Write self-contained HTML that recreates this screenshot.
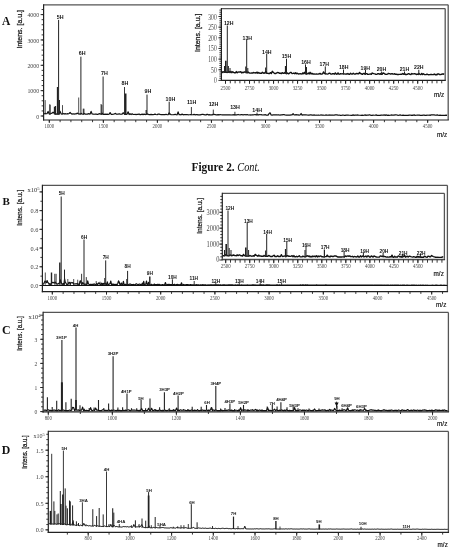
<!DOCTYPE html>
<html><head><meta charset="utf-8"><title>Figure 2</title>
<style>html,body{margin:0;padding:0;background:#fff;}body{width:454px;height:550px;overflow:hidden;}svg{display:block;filter:blur(0.3px);}</style>
</head><body>
<svg width="454" height="550" viewBox="0 0 454 550"><line x1="43.6" y1="4.8" x2="448.2" y2="4.8" stroke="#555" stroke-width="1.3"/>
<line x1="448.2" y1="4.8" x2="448.2" y2="120" stroke="#555" stroke-width="1.3"/>
<line x1="43.6" y1="4.15" x2="43.6" y2="120.6" stroke="#222" stroke-width="1.2"/>
<line x1="43" y1="120" x2="448.85" y2="120" stroke="#222" stroke-width="1.2"/>
<line x1="41.6" y1="116" x2="43.6" y2="116" stroke="#222" stroke-width="0.9"/>
<line x1="41.6" y1="110.93" x2="43.6" y2="110.93" stroke="#222" stroke-width="0.9"/>
<line x1="41.6" y1="105.86" x2="43.6" y2="105.86" stroke="#222" stroke-width="0.9"/>
<line x1="41.6" y1="100.79" x2="43.6" y2="100.79" stroke="#222" stroke-width="0.9"/>
<line x1="41.6" y1="95.72" x2="43.6" y2="95.72" stroke="#222" stroke-width="0.9"/>
<line x1="41.6" y1="90.65" x2="43.6" y2="90.65" stroke="#222" stroke-width="0.9"/>
<line x1="41.6" y1="85.58" x2="43.6" y2="85.58" stroke="#222" stroke-width="0.9"/>
<line x1="41.6" y1="80.51" x2="43.6" y2="80.51" stroke="#222" stroke-width="0.9"/>
<line x1="41.6" y1="75.44" x2="43.6" y2="75.44" stroke="#222" stroke-width="0.9"/>
<line x1="41.6" y1="70.37" x2="43.6" y2="70.37" stroke="#222" stroke-width="0.9"/>
<line x1="41.6" y1="65.3" x2="43.6" y2="65.3" stroke="#222" stroke-width="0.9"/>
<line x1="41.6" y1="60.23" x2="43.6" y2="60.23" stroke="#222" stroke-width="0.9"/>
<line x1="41.6" y1="55.16" x2="43.6" y2="55.16" stroke="#222" stroke-width="0.9"/>
<line x1="41.6" y1="50.09" x2="43.6" y2="50.09" stroke="#222" stroke-width="0.9"/>
<line x1="41.6" y1="45.02" x2="43.6" y2="45.02" stroke="#222" stroke-width="0.9"/>
<line x1="41.6" y1="39.95" x2="43.6" y2="39.95" stroke="#222" stroke-width="0.9"/>
<line x1="41.6" y1="34.88" x2="43.6" y2="34.88" stroke="#222" stroke-width="0.9"/>
<line x1="41.6" y1="29.81" x2="43.6" y2="29.81" stroke="#222" stroke-width="0.9"/>
<line x1="41.6" y1="24.74" x2="43.6" y2="24.74" stroke="#222" stroke-width="0.9"/>
<line x1="41.6" y1="19.67" x2="43.6" y2="19.67" stroke="#222" stroke-width="0.9"/>
<line x1="41.6" y1="14.6" x2="43.6" y2="14.6" stroke="#222" stroke-width="0.9"/>
<line x1="41.6" y1="9.53" x2="43.6" y2="9.53" stroke="#222" stroke-width="0.9"/>
<line x1="40.6" y1="116" x2="43.6" y2="116" stroke="#222" stroke-width="0.9"/>
<text x="39.2" y="118.8" font-size="6.2" font-family="'Liberation Serif', serif" text-anchor="end" fill="#444" textLength="2.95" lengthAdjust="spacingAndGlyphs">0</text>
<line x1="40.6" y1="90.65" x2="43.6" y2="90.65" stroke="#222" stroke-width="0.9"/>
<text x="39.2" y="93.45" font-size="6.2" font-family="'Liberation Serif', serif" text-anchor="end" fill="#444" textLength="11.8" lengthAdjust="spacingAndGlyphs">1000</text>
<line x1="40.6" y1="65.3" x2="43.6" y2="65.3" stroke="#222" stroke-width="0.9"/>
<text x="39.2" y="68.1" font-size="6.2" font-family="'Liberation Serif', serif" text-anchor="end" fill="#444" textLength="11.8" lengthAdjust="spacingAndGlyphs">2000</text>
<line x1="40.6" y1="39.95" x2="43.6" y2="39.95" stroke="#222" stroke-width="0.9"/>
<text x="39.2" y="42.75" font-size="6.2" font-family="'Liberation Serif', serif" text-anchor="end" fill="#444" textLength="11.8" lengthAdjust="spacingAndGlyphs">3000</text>
<line x1="40.6" y1="14.6" x2="43.6" y2="14.6" stroke="#222" stroke-width="0.9"/>
<text x="39.2" y="17.4" font-size="6.2" font-family="'Liberation Serif', serif" text-anchor="end" fill="#444" textLength="11.8" lengthAdjust="spacingAndGlyphs">4000</text>
<line x1="49.3" y1="120" x2="49.3" y2="122.2" stroke="#222" stroke-width="0.9"/>
<line x1="60.11" y1="120" x2="60.11" y2="122.2" stroke="#222" stroke-width="0.9"/>
<line x1="70.92" y1="120" x2="70.92" y2="122.2" stroke="#222" stroke-width="0.9"/>
<line x1="81.73" y1="120" x2="81.73" y2="122.2" stroke="#222" stroke-width="0.9"/>
<line x1="92.54" y1="120" x2="92.54" y2="122.2" stroke="#222" stroke-width="0.9"/>
<line x1="103.35" y1="120" x2="103.35" y2="122.2" stroke="#222" stroke-width="0.9"/>
<line x1="114.16" y1="120" x2="114.16" y2="122.2" stroke="#222" stroke-width="0.9"/>
<line x1="124.97" y1="120" x2="124.97" y2="122.2" stroke="#222" stroke-width="0.9"/>
<line x1="135.78" y1="120" x2="135.78" y2="122.2" stroke="#222" stroke-width="0.9"/>
<line x1="146.59" y1="120" x2="146.59" y2="122.2" stroke="#222" stroke-width="0.9"/>
<line x1="157.4" y1="120" x2="157.4" y2="122.2" stroke="#222" stroke-width="0.9"/>
<line x1="168.21" y1="120" x2="168.21" y2="122.2" stroke="#222" stroke-width="0.9"/>
<line x1="179.02" y1="120" x2="179.02" y2="122.2" stroke="#222" stroke-width="0.9"/>
<line x1="189.83" y1="120" x2="189.83" y2="122.2" stroke="#222" stroke-width="0.9"/>
<line x1="200.64" y1="120" x2="200.64" y2="122.2" stroke="#222" stroke-width="0.9"/>
<line x1="211.45" y1="120" x2="211.45" y2="122.2" stroke="#222" stroke-width="0.9"/>
<line x1="222.26" y1="120" x2="222.26" y2="122.2" stroke="#222" stroke-width="0.9"/>
<line x1="233.07" y1="120" x2="233.07" y2="122.2" stroke="#222" stroke-width="0.9"/>
<line x1="243.88" y1="120" x2="243.88" y2="122.2" stroke="#222" stroke-width="0.9"/>
<line x1="254.69" y1="120" x2="254.69" y2="122.2" stroke="#222" stroke-width="0.9"/>
<line x1="265.5" y1="120" x2="265.5" y2="122.2" stroke="#222" stroke-width="0.9"/>
<line x1="276.31" y1="120" x2="276.31" y2="122.2" stroke="#222" stroke-width="0.9"/>
<line x1="287.12" y1="120" x2="287.12" y2="122.2" stroke="#222" stroke-width="0.9"/>
<line x1="297.93" y1="120" x2="297.93" y2="122.2" stroke="#222" stroke-width="0.9"/>
<line x1="308.74" y1="120" x2="308.74" y2="122.2" stroke="#222" stroke-width="0.9"/>
<line x1="319.55" y1="120" x2="319.55" y2="122.2" stroke="#222" stroke-width="0.9"/>
<line x1="330.36" y1="120" x2="330.36" y2="122.2" stroke="#222" stroke-width="0.9"/>
<line x1="341.17" y1="120" x2="341.17" y2="122.2" stroke="#222" stroke-width="0.9"/>
<line x1="351.98" y1="120" x2="351.98" y2="122.2" stroke="#222" stroke-width="0.9"/>
<line x1="362.79" y1="120" x2="362.79" y2="122.2" stroke="#222" stroke-width="0.9"/>
<line x1="373.6" y1="120" x2="373.6" y2="122.2" stroke="#222" stroke-width="0.9"/>
<line x1="384.41" y1="120" x2="384.41" y2="122.2" stroke="#222" stroke-width="0.9"/>
<line x1="395.22" y1="120" x2="395.22" y2="122.2" stroke="#222" stroke-width="0.9"/>
<line x1="406.03" y1="120" x2="406.03" y2="122.2" stroke="#222" stroke-width="0.9"/>
<line x1="416.84" y1="120" x2="416.84" y2="122.2" stroke="#222" stroke-width="0.9"/>
<line x1="427.65" y1="120" x2="427.65" y2="122.2" stroke="#222" stroke-width="0.9"/>
<line x1="438.46" y1="120" x2="438.46" y2="122.2" stroke="#222" stroke-width="0.9"/>
<line x1="49.3" y1="120" x2="49.3" y2="123" stroke="#222" stroke-width="0.9"/>
<text x="49.3" y="127.8" font-size="6.8" font-family="'Liberation Serif', serif" text-anchor="middle" fill="#444" textLength="9.6" lengthAdjust="spacingAndGlyphs">1000</text>
<line x1="103.35" y1="120" x2="103.35" y2="123" stroke="#222" stroke-width="0.9"/>
<text x="103.35" y="127.8" font-size="6.8" font-family="'Liberation Serif', serif" text-anchor="middle" fill="#444" textLength="9.6" lengthAdjust="spacingAndGlyphs">1500</text>
<line x1="157.4" y1="120" x2="157.4" y2="123" stroke="#222" stroke-width="0.9"/>
<text x="157.4" y="127.8" font-size="6.8" font-family="'Liberation Serif', serif" text-anchor="middle" fill="#444" textLength="9.6" lengthAdjust="spacingAndGlyphs">2000</text>
<line x1="211.45" y1="120" x2="211.45" y2="123" stroke="#222" stroke-width="0.9"/>
<text x="211.45" y="127.8" font-size="6.8" font-family="'Liberation Serif', serif" text-anchor="middle" fill="#444" textLength="9.6" lengthAdjust="spacingAndGlyphs">2500</text>
<line x1="265.5" y1="120" x2="265.5" y2="123" stroke="#222" stroke-width="0.9"/>
<text x="265.5" y="127.8" font-size="6.8" font-family="'Liberation Serif', serif" text-anchor="middle" fill="#444" textLength="9.6" lengthAdjust="spacingAndGlyphs">3000</text>
<line x1="319.55" y1="120" x2="319.55" y2="123" stroke="#222" stroke-width="0.9"/>
<text x="319.55" y="127.8" font-size="6.8" font-family="'Liberation Serif', serif" text-anchor="middle" fill="#444" textLength="9.6" lengthAdjust="spacingAndGlyphs">3500</text>
<line x1="373.6" y1="120" x2="373.6" y2="123" stroke="#222" stroke-width="0.9"/>
<text x="373.6" y="127.8" font-size="6.8" font-family="'Liberation Serif', serif" text-anchor="middle" fill="#444" textLength="9.6" lengthAdjust="spacingAndGlyphs">4000</text>
<line x1="427.65" y1="120" x2="427.65" y2="123" stroke="#222" stroke-width="0.9"/>
<text x="427.65" y="127.8" font-size="6.8" font-family="'Liberation Serif', serif" text-anchor="middle" fill="#444" textLength="9.6" lengthAdjust="spacingAndGlyphs">4500</text>
<text x="22.2" y="29.2" font-size="7" font-family="'Liberation Sans', sans-serif" text-anchor="middle" fill="#1a1a1a" stroke="#1a1a1a" stroke-width="0.25" textLength="38.5" lengthAdjust="spacingAndGlyphs" transform="rotate(-90 22.2 29.2)">Intens. [a.u.]</text>
<text x="6.2" y="25.3" font-size="11.5" font-family="'Liberation Serif', serif" text-anchor="middle" fill="#111" font-weight="bold">A</text>
<text x="447.2" y="136.9" font-size="8.0" font-family="'Liberation Sans', sans-serif" text-anchor="end" fill="#111" stroke="#111" stroke-width="0.2" textLength="10.2" lengthAdjust="spacingAndGlyphs">m/z</text>
<polyline points="44.1,113.98 45.1,113.43 46.1,113.77 47.1,113.6 48.1,111.38 49.1,113.85 50.1,114.04 51.1,113.53 52.1,113.17 53.1,112.07 54.1,113.2 55.1,114.03 56.1,114.08 57.1,113.9 58.1,114.04 59.1,114.05 60.1,111.38 61.1,113.81 62.1,114.09 63.1,113.41 64.1,114.03 65.1,113.65 66.1,113.98 67.1,113.72 68.1,113.83 69.1,113.48 70.1,112.51 71.1,113.58 72.1,114.16 73.1,113.73 74.1,114.07 75.1,113.96 76.1,113.96 77.1,113.1 78.1,113.76 79.1,113.9 80.1,114.21 81.1,113.35 82.1,113.98 83.1,114.21 84.1,113.43 85.1,114.08 86.1,114 87.1,114.28 88.1,113.68 89.1,113.8 90.1,114.06 91.1,111.43 92.1,114.02 93.1,114.09 94.1,114.22 95.1,114.08 96.1,114.01 97.1,114.35 98.1,114.33 99.1,113.7 100.1,113.8 101.1,114.32 102.1,113.14 103.1,114.39 104.1,114.34 105.1,114.06 106.1,114.41 107.1,114.17 108.1,114.36 109.1,114.25 110.1,112.59 111.1,114.29 112.1,114.44 113.1,114.23 114.1,114.15 115.1,113.35 116.1,114.03 117.1,114.06 118.1,114.23 119.1,113.68 120.1,114.27 121.1,114.15 122.1,114.23 123.1,112.73 124.1,113.74 125.1,114.46 126.1,114.46 127.1,114.08 128.1,111.77 129.1,114.56 130.1,113.8 131.1,114.55 132.1,113.79 133.1,114.37 134.1,114.5 135.1,114.23 136.1,114.58 137.1,114.25 138.1,114.42 139.1,114.01 140.1,114.63 141.1,114.55 142.1,114.15 143.1,114.62 144.1,114.09 145.1,114.57 146.1,114.29 147.1,113.9 148.1,114.27 149.1,114.67 150.1,114.66 151.1,114.42 152.1,114.6 153.1,114.64 154.1,114.43 155.1,114.1 156.1,114.48 157.1,114.72 158.1,114.14 159.1,114.2 160.1,114.44 161.1,114.63 162.1,114.7 163.1,114.69 164.1,114.5 165.1,114.59 166.1,114.28 167.1,114.76 168.1,114.75 169.1,112.84 170.1,114.03 171.1,114.76 172.1,114.73 173.1,114.77 174.1,114.67 175.1,114.17 176.1,114.74 177.1,114.78 178.1,111.83 179.1,114.73 180.1,114.65 181.1,114.8 182.1,114.12 183.1,114.8 184.1,114.53 185.1,114.6 186.1,114.5 187.1,114.61 188.1,114.78 189.1,114.77 190.1,114.69 191.1,114.54 192.1,114.73 193.1,114.77 194.1,114.34 195.1,114.79 196.1,114.64 197.1,114.61 198.1,114.86 199.1,114.86 200.1,114.86 201.1,114.59 202.1,114.44 203.1,114.36 204.1,114.71 205.1,114.88 206.1,114.87 207.1,114.23 208.1,114.82 209.1,114.72 210.1,114.84 211.1,114.89 212.1,114.91 213.1,114.36 214.1,114.36 215.1,114.54 216.1,114.9 217.1,114.91 218.1,114.63 219.1,114.93 220.1,114.5 221.1,114.74 222.1,114.81 223.1,114.87 224.1,114.95 225.1,114.84 226.1,114.95 227.1,114.94 228.1,114.92 229.1,114.86 230.1,114.73 231.1,114.97 232.1,114.81 233.1,114.86 234.1,114.64 235.1,114.83 236.1,114.96 237.1,114.79 238.1,114.47 239.1,114.74 240.1,115 241.1,114.53 242.1,114.65 243.1,114.95 244.1,114.57 245.1,114.72 246.1,114.81 247.1,114.54 248.1,114.83 249.1,114.99 250.1,114.84 251.1,115.04 252.1,114.73 253.1,114.89 254.1,114.73 255.1,114.48 256.1,114.82 257.1,114.57 258.1,115.05 259.1,114.65 260.1,114.78 261.1,114.58 262.1,114.99 263.1,114.97 264.1,115.02 265.1,114.61 266.1,115.08 267.1,115 268.1,115.04 269.1,113.56 270.1,112.81 271.1,114.9 272.1,115.08 273.1,114.95 274.1,114.92 275.1,114.86 276.1,114.76 277.1,114.96 278.1,114.73 279.1,114.95 280.1,115.09 281.1,114.79 282.1,114.84 283.1,114.65 284.1,114.64 285.1,115.02 286.1,115.1 287.1,115.09 288.1,115.16 289.1,115.06 290.1,115.08 291.1,114.93 292.1,114.96 293.1,113.74 294.1,115 295.1,114.83 296.1,114.69 297.1,114.84 298.1,114.91 299.1,115.15 300.1,115.01 301.1,113.48 302.1,115.12 303.1,114.84 304.1,114.94 305.1,114.94 306.1,114.94 307.1,115.01 308.1,115.14 309.1,115.03 310.1,114.93 311.1,114.94 312.1,115.06 313.1,115.21 314.1,114.87 315.1,115.24 316.1,115.14 317.1,115.26 318.1,114.98 319.1,115.2 320.1,115.27 321.1,114.82 322.1,115.19 323.1,115.09 324.1,115.26 325.1,115.25 326.1,114.94 327.1,115.22 328.1,115.02 329.1,115.08 330.1,114.97 331.1,115.12 332.1,115.14 333.1,114.99 334.1,115.25 335.1,114.84 336.1,114.95 337.1,114.9 338.1,115.26 339.1,115.02 340.1,115.29 341.1,115.3 342.1,115.21 343.1,115.05 344.1,115.28 345.1,115.3 346.1,115.06 347.1,115.03 348.1,115.06 349.1,115.27 350.1,115.24 351.1,115.31 352.1,115.32 353.1,114.92 354.1,115.32 355.1,114.99 356.1,115.13 357.1,114.97 358.1,115.08 359.1,115.24 360.1,115.25 361.1,115.3 362.1,115.22 363.1,115.31 364.1,115.27 365.1,114.92 366.1,115.33 367.1,114.96 368.1,115.26 369.1,114.91 370.1,114.95 371.1,115.32 372.1,115.34 373.1,115.12 374.1,115.27 375.1,115.23 376.1,114.93 377.1,115.34 378.1,115.34 379.1,115.33 380.1,115.34 381.1,115.07 382.1,114.99 383.1,115.27 384.1,114.88 385.1,115.32 386.1,114.91 387.1,115.29 388.1,115.19 389.1,115.35 390.1,115.27 391.1,114.96 392.1,115.13 393.1,115.08 394.1,115.07 395.1,114.88 396.1,114.93 397.1,114.99 398.1,115.35 399.1,115.25 400.1,114.87 401.1,115.22 402.1,115.35 403.1,115.11 404.1,115.36 405.1,115.36 406.1,115.36 407.1,115.29 408.1,115.32 409.1,115.05 410.1,115 411.1,115.28 412.1,115.21 413.1,115.31 414.1,114.91 415.1,115.37 416.1,115.27 417.1,115.12 418.1,115.13 419.1,114.97 420.1,115.33 421.1,115.31 422.1,115.37 423.1,115.21 424.1,115.05 425.1,115.33 426.1,115.32 427.1,115.1 428.1,115.24 429.1,114.97 430.1,115.33 431.1,114.91 432.1,114.97 433.1,114.92 434.1,114.96 435.1,115.07 436.1,115.25 437.1,114.9 438.1,115.14 439.1,115.33 440.1,115.19 441.1,115.29 442.1,115.25 443.1,115.38 444.1,115.24 445.1,115.38 446.1,115.13 447.1,115.39" fill="none" stroke="#111" stroke-width="1.2" stroke-linejoin="round"/>
<line x1="45.2" y1="114.31" x2="45.2" y2="100.1" stroke="#222" stroke-width="0.8"/>
<line x1="49.6" y1="114.34" x2="49.6" y2="104.3" stroke="#222" stroke-width="0.8"/>
<line x1="50.3" y1="114.34" x2="50.3" y2="104.7" stroke="#222" stroke-width="0.8"/>
<line x1="54.6" y1="114.37" x2="54.6" y2="106.7" stroke="#222" stroke-width="1.5"/>
<line x1="55.5" y1="114.38" x2="55.5" y2="106" stroke="#222" stroke-width="1.2"/>
<line x1="57.5" y1="114.39" x2="57.5" y2="87" stroke="#222" stroke-width="1.3"/>
<line x1="58.6" y1="114.4" x2="58.6" y2="19.9" stroke="#222" stroke-width="1"/>
<line x1="59.5" y1="114.4" x2="59.5" y2="100" stroke="#222" stroke-width="1"/>
<line x1="62.5" y1="114.42" x2="62.5" y2="105.1" stroke="#222" stroke-width="0.8"/>
<line x1="78.7" y1="114.53" x2="78.7" y2="97.5" stroke="#222" stroke-width="0.8"/>
<line x1="80.9" y1="114.54" x2="80.9" y2="56.7" stroke="#222" stroke-width="1"/>
<line x1="83.3" y1="114.56" x2="83.3" y2="108.7" stroke="#222" stroke-width="1"/>
<line x1="84" y1="114.56" x2="84" y2="108.7" stroke="#222" stroke-width="0.8"/>
<line x1="101.1" y1="114.68" x2="101.1" y2="104" stroke="#222" stroke-width="0.9"/>
<line x1="101.8" y1="114.68" x2="101.8" y2="105" stroke="#222" stroke-width="0.9"/>
<line x1="103.1" y1="114.69" x2="103.1" y2="76.5" stroke="#222" stroke-width="1"/>
<line x1="124.5" y1="114.83" x2="124.5" y2="87" stroke="#222" stroke-width="0.9"/>
<line x1="125.6" y1="114.84" x2="125.6" y2="93.5" stroke="#222" stroke-width="1.8"/>
<line x1="147" y1="114.98" x2="147" y2="94.6" stroke="#222" stroke-width="1"/>
<line x1="146.2" y1="114.97" x2="146.2" y2="110" stroke="#222" stroke-width="1.2"/>
<line x1="169.2" y1="115.06" x2="169.2" y2="101.7" stroke="#222" stroke-width="1"/>
<line x1="191.4" y1="115.14" x2="191.4" y2="107" stroke="#222" stroke-width="0.9"/>
<line x1="213.3" y1="115.21" x2="213.3" y2="109.6" stroke="#222" stroke-width="0.9"/>
<line x1="234.9" y1="115.28" x2="234.9" y2="111.8" stroke="#222" stroke-width="0.9"/>
<line x1="257" y1="115.36" x2="257" y2="112.6" stroke="#222" stroke-width="0.9"/>
<text x="60.1" y="18.51" font-size="5.3" font-family="'Liberation Sans', sans-serif" text-anchor="middle" fill="#111" font-weight="bold">5H</text>
<text x="82.1" y="54.81" font-size="5.3" font-family="'Liberation Sans', sans-serif" text-anchor="middle" fill="#111" font-weight="bold">6H</text>
<text x="104.4" y="75.31" font-size="5.3" font-family="'Liberation Sans', sans-serif" text-anchor="middle" fill="#111" font-weight="bold">7H</text>
<text x="125" y="85.11" font-size="5.3" font-family="'Liberation Sans', sans-serif" text-anchor="middle" fill="#111" font-weight="bold">8H</text>
<text x="148" y="93.11" font-size="5.3" font-family="'Liberation Sans', sans-serif" text-anchor="middle" fill="#111" font-weight="bold">9H</text>
<text x="170.4" y="100.61" font-size="5.3" font-family="'Liberation Sans', sans-serif" text-anchor="middle" fill="#111" font-weight="bold">10H</text>
<text x="191.6" y="103.51" font-size="5.3" font-family="'Liberation Sans', sans-serif" text-anchor="middle" fill="#111" font-weight="bold">11H</text>
<text x="213.5" y="106.31" font-size="5.3" font-family="'Liberation Sans', sans-serif" text-anchor="middle" fill="#111" font-weight="bold">12H</text>
<text x="235" y="109.01" font-size="5.3" font-family="'Liberation Sans', sans-serif" text-anchor="middle" fill="#111" font-weight="bold">13H</text>
<text x="257.2" y="112.11" font-size="5.3" font-family="'Liberation Sans', sans-serif" text-anchor="middle" fill="#111" font-weight="bold">14H</text>
<rect x="221.4" y="8.6" width="223.8" height="71.7" fill="#fff"/>
<line x1="221.4" y1="8.6" x2="445.2" y2="8.6" stroke="#555" stroke-width="1.3"/>
<line x1="445.2" y1="8.6" x2="445.2" y2="80.3" stroke="#555" stroke-width="1.3"/>
<line x1="221.4" y1="7.95" x2="221.4" y2="80.9" stroke="#222" stroke-width="1.2"/>
<line x1="220.8" y1="80.3" x2="445.85" y2="80.3" stroke="#222" stroke-width="1.2"/>
<line x1="219.4" y1="78.27" x2="221.4" y2="78.27" stroke="#222" stroke-width="0.9"/>
<line x1="219.4" y1="76.14" x2="221.4" y2="76.14" stroke="#222" stroke-width="0.9"/>
<line x1="219.4" y1="74.01" x2="221.4" y2="74.01" stroke="#222" stroke-width="0.9"/>
<line x1="219.4" y1="71.88" x2="221.4" y2="71.88" stroke="#222" stroke-width="0.9"/>
<line x1="219.4" y1="69.75" x2="221.4" y2="69.75" stroke="#222" stroke-width="0.9"/>
<line x1="219.4" y1="67.62" x2="221.4" y2="67.62" stroke="#222" stroke-width="0.9"/>
<line x1="219.4" y1="65.49" x2="221.4" y2="65.49" stroke="#222" stroke-width="0.9"/>
<line x1="219.4" y1="63.36" x2="221.4" y2="63.36" stroke="#222" stroke-width="0.9"/>
<line x1="219.4" y1="61.23" x2="221.4" y2="61.23" stroke="#222" stroke-width="0.9"/>
<line x1="219.4" y1="59.1" x2="221.4" y2="59.1" stroke="#222" stroke-width="0.9"/>
<line x1="219.4" y1="56.97" x2="221.4" y2="56.97" stroke="#222" stroke-width="0.9"/>
<line x1="219.4" y1="54.84" x2="221.4" y2="54.84" stroke="#222" stroke-width="0.9"/>
<line x1="219.4" y1="52.71" x2="221.4" y2="52.71" stroke="#222" stroke-width="0.9"/>
<line x1="219.4" y1="50.58" x2="221.4" y2="50.58" stroke="#222" stroke-width="0.9"/>
<line x1="219.4" y1="48.45" x2="221.4" y2="48.45" stroke="#222" stroke-width="0.9"/>
<line x1="219.4" y1="46.32" x2="221.4" y2="46.32" stroke="#222" stroke-width="0.9"/>
<line x1="219.4" y1="44.19" x2="221.4" y2="44.19" stroke="#222" stroke-width="0.9"/>
<line x1="219.4" y1="42.06" x2="221.4" y2="42.06" stroke="#222" stroke-width="0.9"/>
<line x1="219.4" y1="39.93" x2="221.4" y2="39.93" stroke="#222" stroke-width="0.9"/>
<line x1="219.4" y1="37.8" x2="221.4" y2="37.8" stroke="#222" stroke-width="0.9"/>
<line x1="219.4" y1="35.67" x2="221.4" y2="35.67" stroke="#222" stroke-width="0.9"/>
<line x1="219.4" y1="33.54" x2="221.4" y2="33.54" stroke="#222" stroke-width="0.9"/>
<line x1="219.4" y1="31.41" x2="221.4" y2="31.41" stroke="#222" stroke-width="0.9"/>
<line x1="219.4" y1="29.28" x2="221.4" y2="29.28" stroke="#222" stroke-width="0.9"/>
<line x1="219.4" y1="27.15" x2="221.4" y2="27.15" stroke="#222" stroke-width="0.9"/>
<line x1="219.4" y1="25.02" x2="221.4" y2="25.02" stroke="#222" stroke-width="0.9"/>
<line x1="219.4" y1="22.89" x2="221.4" y2="22.89" stroke="#222" stroke-width="0.9"/>
<line x1="219.4" y1="20.76" x2="221.4" y2="20.76" stroke="#222" stroke-width="0.9"/>
<line x1="219.4" y1="18.63" x2="221.4" y2="18.63" stroke="#222" stroke-width="0.9"/>
<line x1="219.4" y1="16.5" x2="221.4" y2="16.5" stroke="#222" stroke-width="0.9"/>
<line x1="219.4" y1="14.37" x2="221.4" y2="14.37" stroke="#222" stroke-width="0.9"/>
<line x1="219.4" y1="12.24" x2="221.4" y2="12.24" stroke="#222" stroke-width="0.9"/>
<line x1="219.4" y1="10.11" x2="221.4" y2="10.11" stroke="#222" stroke-width="0.9"/>
<line x1="218.4" y1="80.4" x2="221.4" y2="80.4" stroke="#222" stroke-width="0.9"/>
<text x="216.7" y="83.4" font-size="7.8" font-family="'Liberation Serif', serif" text-anchor="end" fill="#444" textLength="2.8" lengthAdjust="spacingAndGlyphs">0</text>
<line x1="218.4" y1="69.75" x2="221.4" y2="69.75" stroke="#222" stroke-width="0.9"/>
<text x="216.7" y="72.75" font-size="7.8" font-family="'Liberation Serif', serif" text-anchor="end" fill="#444" textLength="5.6" lengthAdjust="spacingAndGlyphs">50</text>
<line x1="218.4" y1="59.1" x2="221.4" y2="59.1" stroke="#222" stroke-width="0.9"/>
<text x="216.7" y="62.1" font-size="7.8" font-family="'Liberation Serif', serif" text-anchor="end" fill="#444" textLength="8.4" lengthAdjust="spacingAndGlyphs">100</text>
<line x1="218.4" y1="48.45" x2="221.4" y2="48.45" stroke="#222" stroke-width="0.9"/>
<text x="216.7" y="51.45" font-size="7.8" font-family="'Liberation Serif', serif" text-anchor="end" fill="#444" textLength="8.4" lengthAdjust="spacingAndGlyphs">150</text>
<line x1="218.4" y1="37.8" x2="221.4" y2="37.8" stroke="#222" stroke-width="0.9"/>
<text x="216.7" y="40.8" font-size="7.8" font-family="'Liberation Serif', serif" text-anchor="end" fill="#444" textLength="8.4" lengthAdjust="spacingAndGlyphs">200</text>
<line x1="218.4" y1="27.15" x2="221.4" y2="27.15" stroke="#222" stroke-width="0.9"/>
<text x="216.7" y="30.15" font-size="7.8" font-family="'Liberation Serif', serif" text-anchor="end" fill="#444" textLength="8.4" lengthAdjust="spacingAndGlyphs">250</text>
<line x1="218.4" y1="16.5" x2="221.4" y2="16.5" stroke="#222" stroke-width="0.9"/>
<text x="216.7" y="19.5" font-size="7.8" font-family="'Liberation Serif', serif" text-anchor="end" fill="#444" textLength="8.4" lengthAdjust="spacingAndGlyphs">300</text>
<line x1="225.5" y1="80.3" x2="225.5" y2="83.3" stroke="#222" stroke-width="0.9"/>
<line x1="230.31" y1="80.3" x2="230.31" y2="83.3" stroke="#222" stroke-width="0.9"/>
<line x1="235.11" y1="80.3" x2="235.11" y2="83.3" stroke="#222" stroke-width="0.9"/>
<line x1="239.91" y1="80.3" x2="239.91" y2="83.3" stroke="#222" stroke-width="0.9"/>
<line x1="244.72" y1="80.3" x2="244.72" y2="83.3" stroke="#222" stroke-width="0.9"/>
<line x1="249.53" y1="80.3" x2="249.53" y2="83.3" stroke="#222" stroke-width="0.9"/>
<line x1="254.33" y1="80.3" x2="254.33" y2="83.3" stroke="#222" stroke-width="0.9"/>
<line x1="259.13" y1="80.3" x2="259.13" y2="83.3" stroke="#222" stroke-width="0.9"/>
<line x1="263.94" y1="80.3" x2="263.94" y2="83.3" stroke="#222" stroke-width="0.9"/>
<line x1="268.75" y1="80.3" x2="268.75" y2="83.3" stroke="#222" stroke-width="0.9"/>
<line x1="273.55" y1="80.3" x2="273.55" y2="83.3" stroke="#222" stroke-width="0.9"/>
<line x1="278.36" y1="80.3" x2="278.36" y2="83.3" stroke="#222" stroke-width="0.9"/>
<line x1="283.16" y1="80.3" x2="283.16" y2="83.3" stroke="#222" stroke-width="0.9"/>
<line x1="287.97" y1="80.3" x2="287.97" y2="83.3" stroke="#222" stroke-width="0.9"/>
<line x1="292.77" y1="80.3" x2="292.77" y2="83.3" stroke="#222" stroke-width="0.9"/>
<line x1="297.57" y1="80.3" x2="297.57" y2="83.3" stroke="#222" stroke-width="0.9"/>
<line x1="302.38" y1="80.3" x2="302.38" y2="83.3" stroke="#222" stroke-width="0.9"/>
<line x1="307.19" y1="80.3" x2="307.19" y2="83.3" stroke="#222" stroke-width="0.9"/>
<line x1="311.99" y1="80.3" x2="311.99" y2="83.3" stroke="#222" stroke-width="0.9"/>
<line x1="316.8" y1="80.3" x2="316.8" y2="83.3" stroke="#222" stroke-width="0.9"/>
<line x1="321.6" y1="80.3" x2="321.6" y2="83.3" stroke="#222" stroke-width="0.9"/>
<line x1="326.4" y1="80.3" x2="326.4" y2="83.3" stroke="#222" stroke-width="0.9"/>
<line x1="331.21" y1="80.3" x2="331.21" y2="83.3" stroke="#222" stroke-width="0.9"/>
<line x1="336.01" y1="80.3" x2="336.01" y2="83.3" stroke="#222" stroke-width="0.9"/>
<line x1="340.82" y1="80.3" x2="340.82" y2="83.3" stroke="#222" stroke-width="0.9"/>
<line x1="345.62" y1="80.3" x2="345.62" y2="83.3" stroke="#222" stroke-width="0.9"/>
<line x1="350.43" y1="80.3" x2="350.43" y2="83.3" stroke="#222" stroke-width="0.9"/>
<line x1="355.24" y1="80.3" x2="355.24" y2="83.3" stroke="#222" stroke-width="0.9"/>
<line x1="360.04" y1="80.3" x2="360.04" y2="83.3" stroke="#222" stroke-width="0.9"/>
<line x1="364.85" y1="80.3" x2="364.85" y2="83.3" stroke="#222" stroke-width="0.9"/>
<line x1="369.65" y1="80.3" x2="369.65" y2="83.3" stroke="#222" stroke-width="0.9"/>
<line x1="374.46" y1="80.3" x2="374.46" y2="83.3" stroke="#222" stroke-width="0.9"/>
<line x1="379.26" y1="80.3" x2="379.26" y2="83.3" stroke="#222" stroke-width="0.9"/>
<line x1="384.06" y1="80.3" x2="384.06" y2="83.3" stroke="#222" stroke-width="0.9"/>
<line x1="388.87" y1="80.3" x2="388.87" y2="83.3" stroke="#222" stroke-width="0.9"/>
<line x1="393.68" y1="80.3" x2="393.68" y2="83.3" stroke="#222" stroke-width="0.9"/>
<line x1="398.48" y1="80.3" x2="398.48" y2="83.3" stroke="#222" stroke-width="0.9"/>
<line x1="403.28" y1="80.3" x2="403.28" y2="83.3" stroke="#222" stroke-width="0.9"/>
<line x1="408.09" y1="80.3" x2="408.09" y2="83.3" stroke="#222" stroke-width="0.9"/>
<line x1="412.89" y1="80.3" x2="412.89" y2="83.3" stroke="#222" stroke-width="0.9"/>
<line x1="417.7" y1="80.3" x2="417.7" y2="83.3" stroke="#222" stroke-width="0.9"/>
<line x1="422.5" y1="80.3" x2="422.5" y2="83.3" stroke="#222" stroke-width="0.9"/>
<line x1="427.31" y1="80.3" x2="427.31" y2="83.3" stroke="#222" stroke-width="0.9"/>
<line x1="432.12" y1="80.3" x2="432.12" y2="83.3" stroke="#222" stroke-width="0.9"/>
<line x1="436.92" y1="80.3" x2="436.92" y2="83.3" stroke="#222" stroke-width="0.9"/>
<line x1="441.73" y1="80.3" x2="441.73" y2="83.3" stroke="#222" stroke-width="0.9"/>
<line x1="225.5" y1="80.3" x2="225.5" y2="83.8" stroke="#222" stroke-width="0.9"/>
<text x="225.5" y="89.8" font-size="6.8" font-family="'Liberation Serif', serif" text-anchor="middle" fill="#444" textLength="9.8" lengthAdjust="spacingAndGlyphs">2500</text>
<line x1="249.53" y1="80.3" x2="249.53" y2="83.8" stroke="#222" stroke-width="0.9"/>
<text x="249.53" y="89.8" font-size="6.8" font-family="'Liberation Serif', serif" text-anchor="middle" fill="#444" textLength="9.8" lengthAdjust="spacingAndGlyphs">2750</text>
<line x1="273.55" y1="80.3" x2="273.55" y2="83.8" stroke="#222" stroke-width="0.9"/>
<text x="273.55" y="89.8" font-size="6.8" font-family="'Liberation Serif', serif" text-anchor="middle" fill="#444" textLength="9.8" lengthAdjust="spacingAndGlyphs">3000</text>
<line x1="297.57" y1="80.3" x2="297.57" y2="83.8" stroke="#222" stroke-width="0.9"/>
<text x="297.57" y="89.8" font-size="6.8" font-family="'Liberation Serif', serif" text-anchor="middle" fill="#444" textLength="9.8" lengthAdjust="spacingAndGlyphs">3250</text>
<line x1="321.6" y1="80.3" x2="321.6" y2="83.8" stroke="#222" stroke-width="0.9"/>
<text x="321.6" y="89.8" font-size="6.8" font-family="'Liberation Serif', serif" text-anchor="middle" fill="#444" textLength="9.8" lengthAdjust="spacingAndGlyphs">3500</text>
<line x1="345.62" y1="80.3" x2="345.62" y2="83.8" stroke="#222" stroke-width="0.9"/>
<text x="345.62" y="89.8" font-size="6.8" font-family="'Liberation Serif', serif" text-anchor="middle" fill="#444" textLength="9.8" lengthAdjust="spacingAndGlyphs">3750</text>
<line x1="369.65" y1="80.3" x2="369.65" y2="83.8" stroke="#222" stroke-width="0.9"/>
<text x="369.65" y="89.8" font-size="6.8" font-family="'Liberation Serif', serif" text-anchor="middle" fill="#444" textLength="9.8" lengthAdjust="spacingAndGlyphs">4000</text>
<line x1="393.68" y1="80.3" x2="393.68" y2="83.8" stroke="#222" stroke-width="0.9"/>
<text x="393.68" y="89.8" font-size="6.8" font-family="'Liberation Serif', serif" text-anchor="middle" fill="#444" textLength="9.8" lengthAdjust="spacingAndGlyphs">4250</text>
<line x1="417.7" y1="80.3" x2="417.7" y2="83.8" stroke="#222" stroke-width="0.9"/>
<text x="417.7" y="89.8" font-size="6.8" font-family="'Liberation Serif', serif" text-anchor="middle" fill="#444" textLength="9.8" lengthAdjust="spacingAndGlyphs">4500</text>
<text x="200" y="32.8" font-size="7" font-family="'Liberation Sans', sans-serif" text-anchor="middle" fill="#1a1a1a" stroke="#1a1a1a" stroke-width="0.25" textLength="38.5" lengthAdjust="spacingAndGlyphs" transform="rotate(-90 200 32.8)">Intens. [a.u.]</text>
<text x="444.2" y="97" font-size="8.0" font-family="'Liberation Sans', sans-serif" text-anchor="end" fill="#111" stroke="#111" stroke-width="0.2" textLength="10.2" lengthAdjust="spacingAndGlyphs">m/z</text>
<polyline points="221.9,71.41 222.8,72.61 223.7,71.72 224.6,72.06 225.5,72.19 226.4,72.24 227.3,72.45 228.2,72.03 229.1,71.56 230,72.49 230.9,71.4 231.8,72.64 232.7,71.76 233.6,72.4 234.5,72.82 235.4,72.82 236.3,71.56 237.2,72.83 238.1,72.06 239,71.84 239.9,72.11 240.8,71.69 241.7,72.92 242.6,72.3 243.5,72.62 244.4,71.89 245.3,72.12 246.2,72.02 247.1,72.77 248,71.97 248.9,72.77 249.8,72.96 250.7,73.08 251.6,73.04 252.5,73.02 253.4,72.52 254.3,72.83 255.2,72.75 256.1,73.16 257,72.09 257.9,73.24 258.8,72.58 259.7,73.23 260.6,73.29 261.5,73.21 262.4,72.33 263.3,72.99 264.2,73.28 265.1,72.37 266,71.49 266.9,73.37 267.8,73.41 268.7,73.44 269.6,73.45 270.5,72.61 271.4,73.44 272.3,71.32 273.2,72.28 274.1,73.04 275,73.53 275.9,73.57 276.8,72.82 277.7,72.54 278.6,72.65 279.5,73.34 280.4,73.08 281.3,73.65 282.2,72.69 283.1,73.25 284,73.37 284.9,72.53 285.8,73.27 286.7,73.76 287.6,72.91 288.5,73.76 289.4,73.29 290.3,72.57 291.2,72.56 292.1,73.6 293,73.42 293.9,73.06 294.8,73.82 295.7,72.72 296.6,73.72 297.5,73.27 298.4,73.96 299.3,73.92 300.2,73.65 301.1,73.88 302,73.95 302.9,72.81 303.8,73.78 304.7,72.29 305.6,73.67 306.5,74.02 307.4,73.87 308.3,72.94 309.2,73.94 310.1,72.25 311,74.05 311.9,73.15 312.8,74.07 313.7,73.86 314.6,74.02 315.5,74.08 316.4,73.91 317.3,74.09 318.2,74.05 319.1,73.91 320,73.37 320.9,74.1 321.8,74.11 322.7,73.59 323.6,71.92 324.5,73.35 325.4,73.82 326.3,73.87 327.2,74.06 328.1,73.86 329,73.32 329.9,73.26 330.8,74.1 331.7,74.09 332.6,73.58 333.5,73.74 334.4,74.18 335.3,72.9 336.2,73.97 337.1,74.2 338,72.94 338.9,74.19 339.8,74.15 340.7,73.62 341.6,73.87 342.5,73.85 343.4,73.5 344.3,73.9 345.2,74.16 346.1,73.98 347,74.05 347.9,73.47 348.8,74.24 349.7,74.27 350.6,73.27 351.5,73.95 352.4,74.08 353.3,73.15 354.2,74.01 355.1,74.16 356,73.75 356.9,73.37 357.8,73.82 358.7,73.75 359.6,72.45 360.5,73.68 361.4,73.79 362.3,74.34 363.2,73.66 364.1,73.29 365,74.35 365.9,73.6 366.8,73.65 367.7,74.33 368.6,74.35 369.5,74.14 370.4,73.97 371.3,74.34 372.2,73.01 373.1,73.49 374,73.67 374.9,73.82 375.8,74.33 376.7,74.42 377.6,73.69 378.5,73.7 379.4,74.23 380.3,73.64 381.2,74.42 382.1,74.26 383,72.88 383.9,73.25 384.8,74.09 385.7,74.22 386.6,74.35 387.5,74.18 388.4,73.4 389.3,73.61 390.2,73.95 391.1,73.95 392,73.59 392.9,73.99 393.8,74.15 394.7,73.69 395.6,74.4 396.5,74.26 397.4,74.44 398.3,74.53 399.2,74.36 400.1,74.42 401,74.29 401.9,74.31 402.8,73.53 403.7,74.32 404.6,73.45 405.5,74.57 406.4,74.54 407.3,74.41 408.2,73.78 409.1,73.75 410,74.4 410.9,74.46 411.8,73.5 412.7,74 413.6,73.91 414.5,73.65 415.4,73.9 416.3,74.53 417.2,74.06 418.1,74.45 419,73.46 419.9,74.37 420.8,74.62 421.7,73.43 422.6,74.51 423.5,73.67 424.4,74.44 425.3,74.62 426.2,74.5 427.1,74.17 428,74.58 428.9,74.7 429.8,74.66 430.7,74.49 431.6,74.57 432.5,74.66 433.4,74.59 434.3,73.97 435.2,74.72 436.1,74.51 437,74.73 437.9,73.83 438.8,74 439.7,74.57 440.6,74.58 441.5,74.28 442.4,73.87 443.3,74.34 444.2,73.53" fill="none" stroke="#111" stroke-width="1.4" stroke-linejoin="round"/>
<line x1="224.5" y1="72.94" x2="224.5" y2="66" stroke="#222" stroke-width="1"/>
<line x1="225.8" y1="72.97" x2="225.8" y2="60.7" stroke="#222" stroke-width="1.6"/>
<line x1="227.3" y1="73" x2="227.3" y2="25.5" stroke="#222" stroke-width="1"/>
<line x1="228.4" y1="73.01" x2="228.4" y2="66" stroke="#222" stroke-width="1"/>
<line x1="230" y1="73.04" x2="230" y2="68" stroke="#222" stroke-width="1"/>
<line x1="245.8" y1="73.33" x2="245.8" y2="66.5" stroke="#222" stroke-width="1.2"/>
<line x1="246.7" y1="73.34" x2="246.7" y2="40" stroke="#222" stroke-width="1"/>
<line x1="247.8" y1="73.36" x2="247.8" y2="68" stroke="#222" stroke-width="1"/>
<line x1="265.6" y1="73.68" x2="265.6" y2="67.5" stroke="#222" stroke-width="1"/>
<line x1="266.7" y1="73.7" x2="266.7" y2="53.8" stroke="#222" stroke-width="1"/>
<line x1="285.5" y1="74.04" x2="285.5" y2="66" stroke="#222" stroke-width="1.2"/>
<line x1="286.5" y1="74.06" x2="286.5" y2="58.7" stroke="#222" stroke-width="1"/>
<line x1="305.5" y1="74.33" x2="305.5" y2="64.4" stroke="#222" stroke-width="1"/>
<line x1="306.5" y1="74.34" x2="306.5" y2="67" stroke="#222" stroke-width="1"/>
<line x1="325.3" y1="74.44" x2="325.3" y2="66.4" stroke="#222" stroke-width="1"/>
<line x1="343.5" y1="74.54" x2="343.5" y2="69.5" stroke="#222" stroke-width="1"/>
<line x1="365.5" y1="74.66" x2="365.5" y2="70" stroke="#222" stroke-width="1"/>
<line x1="381.4" y1="74.75" x2="381.4" y2="71.5" stroke="#222" stroke-width="1"/>
<line x1="404.5" y1="74.88" x2="404.5" y2="71.5" stroke="#222" stroke-width="1"/>
<line x1="418.8" y1="74.96" x2="418.8" y2="69.8" stroke="#222" stroke-width="1"/>
<text x="228.7" y="24.87" font-size="5.2" font-family="'Liberation Sans', sans-serif" text-anchor="middle" fill="#111" font-weight="bold">12H</text>
<text x="247.3" y="40.17" font-size="5.2" font-family="'Liberation Sans', sans-serif" text-anchor="middle" fill="#111" font-weight="bold">13H</text>
<text x="266.8" y="53.87" font-size="5.2" font-family="'Liberation Sans', sans-serif" text-anchor="middle" fill="#111" font-weight="bold">14H</text>
<text x="286.5" y="58.47" font-size="5.2" font-family="'Liberation Sans', sans-serif" text-anchor="middle" fill="#111" font-weight="bold">15H</text>
<text x="306" y="64.47" font-size="5.2" font-family="'Liberation Sans', sans-serif" text-anchor="middle" fill="#111" font-weight="bold">16H</text>
<text x="324.3" y="65.77" font-size="5.2" font-family="'Liberation Sans', sans-serif" text-anchor="middle" fill="#111" font-weight="bold">17H</text>
<text x="343.7" y="68.87" font-size="5.2" font-family="'Liberation Sans', sans-serif" text-anchor="middle" fill="#111" font-weight="bold">18H</text>
<text x="365.3" y="69.97" font-size="5.2" font-family="'Liberation Sans', sans-serif" text-anchor="middle" fill="#111" font-weight="bold">19H</text>
<text x="381.4" y="71.17" font-size="5.2" font-family="'Liberation Sans', sans-serif" text-anchor="middle" fill="#111" font-weight="bold">20H</text>
<text x="404.5" y="71.17" font-size="5.2" font-family="'Liberation Sans', sans-serif" text-anchor="middle" fill="#111" font-weight="bold">21H</text>
<text x="418.8" y="68.97" font-size="5.2" font-family="'Liberation Sans', sans-serif" text-anchor="middle" fill="#111" font-weight="bold">22H</text>
<line x1="42.4" y1="185.3" x2="447.4" y2="185.3" stroke="#555" stroke-width="1.3"/>
<line x1="447.4" y1="185.3" x2="447.4" y2="291.7" stroke="#555" stroke-width="1.3"/>
<line x1="42.4" y1="184.65" x2="42.4" y2="292.3" stroke="#222" stroke-width="1.2"/>
<line x1="41.8" y1="291.7" x2="448.05" y2="291.7" stroke="#222" stroke-width="1.2"/>
<line x1="42.4" y1="285.5" x2="447.4" y2="285.5" stroke="#111" stroke-width="1.2"/>
<line x1="40.4" y1="285.5" x2="42.4" y2="285.5" stroke="#222" stroke-width="0.9"/>
<line x1="40.4" y1="276.14" x2="42.4" y2="276.14" stroke="#222" stroke-width="0.9"/>
<line x1="40.4" y1="266.78" x2="42.4" y2="266.78" stroke="#222" stroke-width="0.9"/>
<line x1="40.4" y1="257.42" x2="42.4" y2="257.42" stroke="#222" stroke-width="0.9"/>
<line x1="40.4" y1="248.06" x2="42.4" y2="248.06" stroke="#222" stroke-width="0.9"/>
<line x1="40.4" y1="238.7" x2="42.4" y2="238.7" stroke="#222" stroke-width="0.9"/>
<line x1="40.4" y1="229.34" x2="42.4" y2="229.34" stroke="#222" stroke-width="0.9"/>
<line x1="40.4" y1="219.98" x2="42.4" y2="219.98" stroke="#222" stroke-width="0.9"/>
<line x1="40.4" y1="210.62" x2="42.4" y2="210.62" stroke="#222" stroke-width="0.9"/>
<line x1="40.4" y1="201.26" x2="42.4" y2="201.26" stroke="#222" stroke-width="0.9"/>
<line x1="40.4" y1="191.9" x2="42.4" y2="191.9" stroke="#222" stroke-width="0.9"/>
<line x1="39.4" y1="285.5" x2="42.4" y2="285.5" stroke="#222" stroke-width="0.9"/>
<text x="38.3" y="288.1" font-size="6" font-family="'Liberation Serif', serif" text-anchor="end" fill="#444" textLength="7.8" lengthAdjust="spacingAndGlyphs">0.0</text>
<line x1="39.4" y1="266.78" x2="42.4" y2="266.78" stroke="#222" stroke-width="0.9"/>
<text x="38.3" y="269.38" font-size="6" font-family="'Liberation Serif', serif" text-anchor="end" fill="#444" textLength="7.8" lengthAdjust="spacingAndGlyphs">0.2</text>
<line x1="39.4" y1="248.06" x2="42.4" y2="248.06" stroke="#222" stroke-width="0.9"/>
<text x="38.3" y="250.66" font-size="6" font-family="'Liberation Serif', serif" text-anchor="end" fill="#444" textLength="7.8" lengthAdjust="spacingAndGlyphs">0.4</text>
<line x1="39.4" y1="229.34" x2="42.4" y2="229.34" stroke="#222" stroke-width="0.9"/>
<text x="38.3" y="231.94" font-size="6" font-family="'Liberation Serif', serif" text-anchor="end" fill="#444" textLength="7.8" lengthAdjust="spacingAndGlyphs">0.6</text>
<line x1="39.4" y1="210.62" x2="42.4" y2="210.62" stroke="#222" stroke-width="0.9"/>
<text x="38.3" y="213.22" font-size="6" font-family="'Liberation Serif', serif" text-anchor="end" fill="#444" textLength="7.8" lengthAdjust="spacingAndGlyphs">0.8</text>
<line x1="39.4" y1="191.9" x2="42.4" y2="191.9" stroke="#222" stroke-width="0.9"/>
<text x="39.6" y="192.4" font-size="6.6" font-family="'Liberation Serif', serif" text-anchor="end" fill="#333">x10<tspan font-size="4.6" dy="-2.4">5</tspan></text>
<line x1="52.3" y1="291.7" x2="52.3" y2="293.9" stroke="#222" stroke-width="0.9"/>
<line x1="63.14" y1="291.7" x2="63.14" y2="293.9" stroke="#222" stroke-width="0.9"/>
<line x1="73.98" y1="291.7" x2="73.98" y2="293.9" stroke="#222" stroke-width="0.9"/>
<line x1="84.82" y1="291.7" x2="84.82" y2="293.9" stroke="#222" stroke-width="0.9"/>
<line x1="95.66" y1="291.7" x2="95.66" y2="293.9" stroke="#222" stroke-width="0.9"/>
<line x1="106.5" y1="291.7" x2="106.5" y2="293.9" stroke="#222" stroke-width="0.9"/>
<line x1="117.34" y1="291.7" x2="117.34" y2="293.9" stroke="#222" stroke-width="0.9"/>
<line x1="128.18" y1="291.7" x2="128.18" y2="293.9" stroke="#222" stroke-width="0.9"/>
<line x1="139.02" y1="291.7" x2="139.02" y2="293.9" stroke="#222" stroke-width="0.9"/>
<line x1="149.86" y1="291.7" x2="149.86" y2="293.9" stroke="#222" stroke-width="0.9"/>
<line x1="160.7" y1="291.7" x2="160.7" y2="293.9" stroke="#222" stroke-width="0.9"/>
<line x1="171.54" y1="291.7" x2="171.54" y2="293.9" stroke="#222" stroke-width="0.9"/>
<line x1="182.38" y1="291.7" x2="182.38" y2="293.9" stroke="#222" stroke-width="0.9"/>
<line x1="193.22" y1="291.7" x2="193.22" y2="293.9" stroke="#222" stroke-width="0.9"/>
<line x1="204.06" y1="291.7" x2="204.06" y2="293.9" stroke="#222" stroke-width="0.9"/>
<line x1="214.9" y1="291.7" x2="214.9" y2="293.9" stroke="#222" stroke-width="0.9"/>
<line x1="225.74" y1="291.7" x2="225.74" y2="293.9" stroke="#222" stroke-width="0.9"/>
<line x1="236.58" y1="291.7" x2="236.58" y2="293.9" stroke="#222" stroke-width="0.9"/>
<line x1="247.42" y1="291.7" x2="247.42" y2="293.9" stroke="#222" stroke-width="0.9"/>
<line x1="258.26" y1="291.7" x2="258.26" y2="293.9" stroke="#222" stroke-width="0.9"/>
<line x1="269.1" y1="291.7" x2="269.1" y2="293.9" stroke="#222" stroke-width="0.9"/>
<line x1="279.94" y1="291.7" x2="279.94" y2="293.9" stroke="#222" stroke-width="0.9"/>
<line x1="290.78" y1="291.7" x2="290.78" y2="293.9" stroke="#222" stroke-width="0.9"/>
<line x1="301.62" y1="291.7" x2="301.62" y2="293.9" stroke="#222" stroke-width="0.9"/>
<line x1="312.46" y1="291.7" x2="312.46" y2="293.9" stroke="#222" stroke-width="0.9"/>
<line x1="323.3" y1="291.7" x2="323.3" y2="293.9" stroke="#222" stroke-width="0.9"/>
<line x1="334.14" y1="291.7" x2="334.14" y2="293.9" stroke="#222" stroke-width="0.9"/>
<line x1="344.98" y1="291.7" x2="344.98" y2="293.9" stroke="#222" stroke-width="0.9"/>
<line x1="355.82" y1="291.7" x2="355.82" y2="293.9" stroke="#222" stroke-width="0.9"/>
<line x1="366.66" y1="291.7" x2="366.66" y2="293.9" stroke="#222" stroke-width="0.9"/>
<line x1="377.5" y1="291.7" x2="377.5" y2="293.9" stroke="#222" stroke-width="0.9"/>
<line x1="388.34" y1="291.7" x2="388.34" y2="293.9" stroke="#222" stroke-width="0.9"/>
<line x1="399.18" y1="291.7" x2="399.18" y2="293.9" stroke="#222" stroke-width="0.9"/>
<line x1="410.02" y1="291.7" x2="410.02" y2="293.9" stroke="#222" stroke-width="0.9"/>
<line x1="420.86" y1="291.7" x2="420.86" y2="293.9" stroke="#222" stroke-width="0.9"/>
<line x1="431.7" y1="291.7" x2="431.7" y2="293.9" stroke="#222" stroke-width="0.9"/>
<line x1="442.54" y1="291.7" x2="442.54" y2="293.9" stroke="#222" stroke-width="0.9"/>
<line x1="52.3" y1="291.7" x2="52.3" y2="294.7" stroke="#222" stroke-width="0.9"/>
<text x="52.3" y="300.2" font-size="6.8" font-family="'Liberation Serif', serif" text-anchor="middle" fill="#444" textLength="9.6" lengthAdjust="spacingAndGlyphs">1000</text>
<line x1="106.5" y1="291.7" x2="106.5" y2="294.7" stroke="#222" stroke-width="0.9"/>
<text x="106.5" y="300.2" font-size="6.8" font-family="'Liberation Serif', serif" text-anchor="middle" fill="#444" textLength="9.6" lengthAdjust="spacingAndGlyphs">1500</text>
<line x1="160.7" y1="291.7" x2="160.7" y2="294.7" stroke="#222" stroke-width="0.9"/>
<text x="160.7" y="300.2" font-size="6.8" font-family="'Liberation Serif', serif" text-anchor="middle" fill="#444" textLength="9.6" lengthAdjust="spacingAndGlyphs">2000</text>
<line x1="214.9" y1="291.7" x2="214.9" y2="294.7" stroke="#222" stroke-width="0.9"/>
<text x="214.9" y="300.2" font-size="6.8" font-family="'Liberation Serif', serif" text-anchor="middle" fill="#444" textLength="9.6" lengthAdjust="spacingAndGlyphs">2500</text>
<line x1="269.1" y1="291.7" x2="269.1" y2="294.7" stroke="#222" stroke-width="0.9"/>
<text x="269.1" y="300.2" font-size="6.8" font-family="'Liberation Serif', serif" text-anchor="middle" fill="#444" textLength="9.6" lengthAdjust="spacingAndGlyphs">3000</text>
<line x1="323.3" y1="291.7" x2="323.3" y2="294.7" stroke="#222" stroke-width="0.9"/>
<text x="323.3" y="300.2" font-size="6.8" font-family="'Liberation Serif', serif" text-anchor="middle" fill="#444" textLength="9.6" lengthAdjust="spacingAndGlyphs">3500</text>
<line x1="377.5" y1="291.7" x2="377.5" y2="294.7" stroke="#222" stroke-width="0.9"/>
<text x="377.5" y="300.2" font-size="6.8" font-family="'Liberation Serif', serif" text-anchor="middle" fill="#444" textLength="9.6" lengthAdjust="spacingAndGlyphs">4000</text>
<line x1="431.7" y1="291.7" x2="431.7" y2="294.7" stroke="#222" stroke-width="0.9"/>
<text x="431.7" y="300.2" font-size="6.8" font-family="'Liberation Serif', serif" text-anchor="middle" fill="#444" textLength="9.6" lengthAdjust="spacingAndGlyphs">4500</text>
<text x="22" y="207.8" font-size="7" font-family="'Liberation Sans', sans-serif" text-anchor="middle" fill="#1a1a1a" stroke="#1a1a1a" stroke-width="0.25" textLength="36" lengthAdjust="spacingAndGlyphs" transform="rotate(-90 22 207.8)">Intens. [a.u.]</text>
<text x="6.2" y="204.6" font-size="11" font-family="'Liberation Serif', serif" text-anchor="middle" fill="#111" font-weight="bold">B</text>
<text x="446.3" y="307.3" font-size="8.0" font-family="'Liberation Sans', sans-serif" text-anchor="end" fill="#111" stroke="#111" stroke-width="0.2" textLength="10.2" lengthAdjust="spacingAndGlyphs">m/z</text>
<polyline points="42.9,284.26 43.6,284.05 44.3,282.56 45,281.07 45.7,281.89 46.4,282.64 47.1,280.56 47.8,282.53 48.5,283.05 49.2,284.42 49.9,283.56 50.6,284.44 51.3,283.89 52,282.54 52.7,282.37 53.4,282.88 54.1,282.32 54.8,282.94 55.5,282.21 56.2,283.52 56.9,283.85 57.6,284.18 58.3,283.66 59,283.37 59.7,282.75 60.4,279.87 61.1,282.31 61.8,283.73 62.5,284.39 63.2,283.73 63.9,284.49 64.6,278.9 65.3,282.38 66,283.16 66.7,284.5 67.4,284.51 68.1,284.27 68.8,282.37 69.5,282.31 70.2,284.51 70.9,282.42 71.6,282.78 72.3,282.89 73,282.54 73.7,284.23 74.4,283.96 75.1,283.79 75.8,283.73 76.5,284.01 77.2,283.46 77.9,284.37 78.6,283.99 79.3,284.56 80,281.1 80.7,280.94 81.4,284.13 82.1,284.32 82.8,282.48 83.5,283.66 84.2,284.46 84.9,283.88 85.6,284.33 86.3,284.32 87,284.42 87.7,280.81 88.4,283.55 89.1,284.51 89.8,284.5 90.5,284.25 91.2,284.6 91.9,284.41 92.6,284.26 93.3,284.57 94,283.83 94.7,284.25 95.4,284.61 96.1,284.57 96.8,283.35 97.5,284.5 98.2,283.9 98.9,282.7 99.6,283.52 100.3,284.44 101,284.35 101.7,283.17 102.4,284.67 103.1,283.32 103.8,284.35 104.5,283.21 105.2,283.74 105.9,283.94 106.6,284.55 107.3,281.92 108,284.56 108.7,284.69 109.4,283.92 110.1,283.42 110.8,280.99 111.5,284.66 112.2,284.02 112.9,284.45 113.6,284.14 114.3,284.62 115,284.38 115.7,284.54 116.4,284.3 117.1,284.68 117.8,283.5 118.5,280.95 119.2,282.01 119.9,284.63 120.6,284.49 121.3,282.93 122,284.72 122.7,284.74 123.4,281.37 124.1,284.62 124.8,284.59 125.5,284.31 126.2,284.71 126.9,284.74 127.6,284.12 128.3,284.75 129,284.59 129.7,284.03 130.4,284 131.1,284.55 131.8,284.49 132.5,284.57 133.2,284.54 133.9,284.46 134.6,284.78 135.3,284.59 136,283.84 136.7,283.93 137.4,284.72 138.1,284.78 138.8,284.35 139.5,284.16 140.2,284.26 140.9,284.79 141.6,284.81 142.3,283.14 143,284.8 143.7,281.29 144.4,284.8 145.1,284.41 145.8,284.02 146.5,281.01 147.2,284.6 147.9,284.82 148.6,282.27 149.3,284.57 150,284.79 150.7,284.79 151.4,284.39 152.1,284.73 152.8,284.75 153.5,284.84 154.2,284.12 154.9,284.42 155.6,284.49 156.3,284.51 157,284.68 157.7,284.26 158.4,284.85 159.1,284.25 159.8,284.72 160.5,284.84 161.2,284.84 161.9,284.8 162.6,284.54 163.3,284.82 164,284.76 164.7,284.65 165.4,282.52 166.1,284.79 166.8,284.8 167.5,284.49 168.2,284.24 168.9,284.66 169.6,284.44 170.3,284.7 171,284.57 171.7,284.8 172.4,284.33 173.1,284.88 173.8,284.59 174.5,284.35 175.2,284.88 175.9,284.88 176.6,284.62 177.3,284.44 178,284.49 178.7,284.82 179.4,284.93 180.1,284.53 180.8,284.86 181.5,282.81 182.2,284.83 182.9,284.92 183.6,284.45 184.3,284.79 185,284.91 185.7,284.95 186.4,284.52 187.1,284.49 187.8,284.65 188.5,284.92 189.2,284.75 189.9,284.93 190.6,284.51 191.3,284.83 192,284.86 192.7,284.73 193.4,284.83 194.1,284.78 194.8,284.97 195.5,284.79 196.2,284.59 196.9,284.94 197.6,284.83 198.3,284.81 199,284.95 199.7,285 200.4,284.76 201.1,284.77 201.8,284.97 202.5,284.69 203.2,284.9 203.9,284.77 204.6,284.96 205.3,284.89 206,284.96 206.7,285 207.4,285.01 208.1,284.79 208.8,285 209.5,284.95 210.2,284.78 210.9,284.89 211.6,284.96 212.3,284.92 213,285 213.7,284.82 214.4,284.81 215.1,284.74 215.8,284.93 216.5,284.9 217.2,284.88 217.9,284.81 218.6,284.92 219.3,285.02 220,284.9 220.7,284.95 221.4,285.02 222.1,285.03 222.8,284.92 223.5,284.95 224.2,284.84 224.9,284.88 225.6,285.03 226.3,285.02 227,284.97 227.7,285.01 228.4,284.93 229.1,284.88 229.8,284.86 230.5,284.93 231.2,284.91 231.9,284.89 232.6,284.93 233.3,285.04 234,285.04 234.7,285.04 235.4,284.95 236.1,285.01 236.8,285.03 237.5,284.93 238.2,285.04 238.9,284.94 239.6,285.02 240.3,284.98 241,285.05 241.7,284.93 242.4,285.01 243.1,285.04 243.8,285.02 244.5,285.05 245.2,285.05 245.9,285.06 246.6,285.02 247.3,284.96 248,285.03 248.7,285.06 249.4,285.05 250.1,285.02 250.8,284.98 251.5,285.06 252.2,284.96 252.9,284.94 253.6,284.89 254.3,285.05 255,284.93 255.7,285.04 256.4,284.98 257.1,285 257.8,285.07 258.5,285.07 259.2,285.07 259.9,284.91 260.6,284.88 261.3,284.95 262,284.9 262.7,285.06 263.4,284.9 264.1,285.06 264.8,285.08 265.5,285.06 266.2,284.91 266.9,284.97 267.6,284.94 268.3,284.91 269,285.05 269.7,284.96 270.4,285.07 271.1,284.98 271.8,284.99 272.5,285.04 273.2,284.99 273.9,285.05 274.6,285 275.3,285.08 276,285.01 276.7,284.94 277.4,284.93 278.1,285.07 278.8,285.1 279.5,284.91 280.2,285.03 280.9,285.1 281.6,285.09 282.3,285.1 283,285.03 283.7,285.09 284.4,285.09 285.1,285.07 285.8,285.03 286.5,285.05 287.2,285.1 287.9,284.97 288.6,285.11 289.3,285.1 290,285.11 290.7,285.1 291.4,285.04 292.1,285 292.8,285.09 293.5,285.07 294.2,284.98 294.9,284.98 295.6,285.06 296.3,285.01 297,285.09 297.7,285.12 298.4,285.01 299.1,285.04 299.8,285.11 300.5,284.92 301.2,285.09 301.9,285.11 302.6,284.95 303.3,284.97 304,285.05 304.7,285.07 305.4,284.95 306.1,284.95 306.8,285.01 307.5,284.93 308.2,285.11 308.9,285.13 309.6,285.03 310.3,285.08 311,285.14 311.7,285.12 312.4,285.11 313.1,285.03 313.8,285.14 314.5,285.11 315.2,285.14 315.9,285.04 316.6,284.95 317.3,285.12 318,285.12 318.7,285.09 319.4,285.12 320.1,285.13 320.8,284.99 321.5,285.13 322.2,285.02 322.9,285.15 323.6,285.09 324.3,285.15 325,285.03 325.7,284.96 326.4,284.96 327.1,285.15 327.8,285.12 328.5,285.16 329.2,285.16 329.9,285.15 330.6,285.12 331.3,285.16 332,285.08 332.7,285 333.4,285.15 334.1,285.05 334.8,285.11 335.5,285.1 336.2,285.16 336.9,285.08 337.6,285 338.3,285.08 339,285.04 339.7,285.14 340.4,285.17 341.1,285.08 341.8,285.11 342.5,285.15 343.2,285.05 343.9,284.99 344.6,285.16 345.3,285.14 346,285.04 346.7,285.1 347.4,285.11 348.1,285.13 348.8,285.08 349.5,285.18 350.2,285.16 350.9,285.02 351.6,285.1 352.3,285.02 353,285.16 353.7,285.17 354.4,285.01 355.1,285.17 355.8,285.17 356.5,285.18 357.2,285.19 357.9,285.18 358.6,285.14 359.3,285.05 360,285.06 360.7,285.18 361.4,285.2 362.1,285.15 362.8,285.14 363.5,285.19 364.2,285.2 364.9,285.19 365.6,285.11 366.3,285.2 367,285.09 367.7,285.2 368.4,285.05 369.1,285.02 369.8,285.18 370.5,285.18 371.2,285.19 371.9,285.21 372.6,285.19 373.3,285.21 374,285.04 374.7,285.02 375.4,285.19 376.1,285.17 376.8,285.2 377.5,285.19 378.2,285.1 378.9,285.18 379.6,285.18 380.3,285.08 381,285.15 381.7,285.08 382.4,285.04 383.1,285.22 383.8,285.22 384.5,285.03 385.2,285.07 385.9,285.23 386.6,285.1 387.3,285.13 388,285.11 388.7,285.17 389.4,285.23 390.1,285.21 390.8,285.2 391.5,285.21 392.2,285.04 392.9,285.09 393.6,285.22 394.3,285.22 395,285.19 395.7,285.22 396.4,285.22 397.1,285.2 397.8,285.18 398.5,285.05 399.2,285.2 399.9,285.24 400.6,285.1 401.3,285.24 402,285.22 402.7,285.22 403.4,285.19 404.1,285.21 404.8,285.15 405.5,285.23 406.2,285.22 406.9,285.17 407.6,285.18 408.3,285.24 409,285.18 409.7,285.25 410.4,285.24 411.1,285.2 411.8,285.2 412.5,285.12 413.2,285.09 413.9,285.17 414.6,285.11 415.3,285.22 416,285.25 416.7,285.13 417.4,285.26 418.1,285.24 418.8,285.13 419.5,285.25 420.2,285.22 420.9,285.19 421.6,285.23 422.3,285.08 423,285.27 423.7,285.16 424.4,285.27 425.1,285.23 425.8,285.12 426.5,285.25 427.2,285.21 427.9,285.27 428.6,285.28 429.3,285.28 430,285.23 430.7,285.28 431.4,285.24 432.1,285.22 432.8,285.09 433.5,285.23 434.2,285.27 434.9,285.28 435.6,285.21 436.3,285.17 437,285.14 437.7,285.28 438.4,285.25 439.1,285.28 439.8,285.28 440.5,285.12 441.2,285.13 441.9,285.29 442.6,285.3 443.3,285.27 444,285.16 444.7,285.27 445.4,285.29 446.1,285.29 446.8,285.28" fill="none" stroke="#111" stroke-width="1.2" stroke-linejoin="round"/>
<line x1="45.3" y1="284.71" x2="45.3" y2="272.5" stroke="#222" stroke-width="0.8"/>
<line x1="51.5" y1="284.74" x2="51.5" y2="272.5" stroke="#222" stroke-width="1.4"/>
<line x1="54.8" y1="284.76" x2="54.8" y2="273.8" stroke="#222" stroke-width="0.9"/>
<line x1="56.1" y1="284.76" x2="56.1" y2="273.8" stroke="#222" stroke-width="0.9"/>
<line x1="59.8" y1="284.78" x2="59.8" y2="262.5" stroke="#222" stroke-width="1.4"/>
<line x1="61.2" y1="284.78" x2="61.2" y2="196.5" stroke="#222" stroke-width="1"/>
<line x1="64.5" y1="284.8" x2="64.5" y2="269.6" stroke="#222" stroke-width="1"/>
<line x1="67.8" y1="284.81" x2="67.8" y2="279" stroke="#222" stroke-width="0.8"/>
<line x1="73.7" y1="284.84" x2="73.7" y2="279" stroke="#222" stroke-width="0.8"/>
<line x1="77.7" y1="284.86" x2="77.7" y2="279.7" stroke="#222" stroke-width="0.8"/>
<line x1="81.6" y1="284.87" x2="81.6" y2="273.8" stroke="#222" stroke-width="0.9"/>
<line x1="84" y1="284.89" x2="84" y2="239.5" stroke="#222" stroke-width="1"/>
<line x1="86.3" y1="284.9" x2="86.3" y2="277.1" stroke="#222" stroke-width="0.9"/>
<line x1="96.2" y1="284.94" x2="96.2" y2="281" stroke="#222" stroke-width="0.8"/>
<line x1="100.1" y1="284.96" x2="100.1" y2="281.7" stroke="#222" stroke-width="0.8"/>
<line x1="104.6" y1="284.98" x2="104.6" y2="278" stroke="#222" stroke-width="0.8"/>
<line x1="105.7" y1="284.98" x2="105.7" y2="260.4" stroke="#222" stroke-width="1"/>
<line x1="127.6" y1="285.06" x2="127.6" y2="270.9" stroke="#222" stroke-width="1"/>
<line x1="126.6" y1="285.06" x2="126.6" y2="279" stroke="#222" stroke-width="0.8"/>
<line x1="149.8" y1="285.13" x2="149.8" y2="276.4" stroke="#222" stroke-width="1.4"/>
<line x1="172.4" y1="285.21" x2="172.4" y2="279.3" stroke="#222" stroke-width="1"/>
<line x1="194.2" y1="285.28" x2="194.2" y2="281" stroke="#222" stroke-width="0.9"/>
<line x1="215.8" y1="285.32" x2="215.8" y2="282.2" stroke="#222" stroke-width="0.9"/>
<line x1="239.3" y1="285.35" x2="239.3" y2="282.6" stroke="#222" stroke-width="0.8"/>
<line x1="260.2" y1="285.37" x2="260.2" y2="282.8" stroke="#222" stroke-width="0.8"/>
<line x1="281.6" y1="285.4" x2="281.6" y2="283" stroke="#222" stroke-width="0.8"/>
<text x="61.7" y="195.33" font-size="4.8" font-family="'Liberation Sans', sans-serif" text-anchor="middle" fill="#111" font-weight="bold">5H</text>
<text x="84.1" y="238.93" font-size="4.8" font-family="'Liberation Sans', sans-serif" text-anchor="middle" fill="#111" font-weight="bold">6H</text>
<text x="105.7" y="259.23" font-size="4.8" font-family="'Liberation Sans', sans-serif" text-anchor="middle" fill="#111" font-weight="bold">7H</text>
<text x="127.6" y="268.43" font-size="4.8" font-family="'Liberation Sans', sans-serif" text-anchor="middle" fill="#111" font-weight="bold">8H</text>
<text x="149.8" y="275.03" font-size="4.8" font-family="'Liberation Sans', sans-serif" text-anchor="middle" fill="#111" font-weight="bold">9H</text>
<text x="172.4" y="278.63" font-size="4.8" font-family="'Liberation Sans', sans-serif" text-anchor="middle" fill="#111" font-weight="bold">10H</text>
<text x="193.8" y="280.13" font-size="4.8" font-family="'Liberation Sans', sans-serif" text-anchor="middle" fill="#111" font-weight="bold">11H</text>
<text x="215.8" y="282.53" font-size="4.8" font-family="'Liberation Sans', sans-serif" text-anchor="middle" fill="#111" font-weight="bold">12H</text>
<text x="239.3" y="283.03" font-size="4.8" font-family="'Liberation Sans', sans-serif" text-anchor="middle" fill="#111" font-weight="bold">13H</text>
<text x="260.2" y="283.03" font-size="4.8" font-family="'Liberation Sans', sans-serif" text-anchor="middle" fill="#111" font-weight="bold">14H</text>
<text x="281.6" y="283.03" font-size="4.8" font-family="'Liberation Sans', sans-serif" text-anchor="middle" fill="#111" font-weight="bold">15H</text>
<rect x="222.3" y="193.3" width="222.1" height="66.4" fill="#fff"/>
<line x1="222.3" y1="193.3" x2="444.4" y2="193.3" stroke="#555" stroke-width="1.3"/>
<line x1="444.4" y1="193.3" x2="444.4" y2="259.7" stroke="#555" stroke-width="1.3"/>
<line x1="222.3" y1="192.65" x2="222.3" y2="260.3" stroke="#222" stroke-width="1.2"/>
<line x1="221.7" y1="259.7" x2="445.05" y2="259.7" stroke="#222" stroke-width="1.2"/>
<line x1="222.3" y1="258.9" x2="444.4" y2="258.9" stroke="#aaa" stroke-width="0.8"/>
<line x1="220.3" y1="256.82" x2="222.3" y2="256.82" stroke="#222" stroke-width="0.9"/>
<line x1="220.3" y1="253.64" x2="222.3" y2="253.64" stroke="#222" stroke-width="0.9"/>
<line x1="220.3" y1="250.46" x2="222.3" y2="250.46" stroke="#222" stroke-width="0.9"/>
<line x1="220.3" y1="247.28" x2="222.3" y2="247.28" stroke="#222" stroke-width="0.9"/>
<line x1="220.3" y1="244.1" x2="222.3" y2="244.1" stroke="#222" stroke-width="0.9"/>
<line x1="220.3" y1="240.92" x2="222.3" y2="240.92" stroke="#222" stroke-width="0.9"/>
<line x1="220.3" y1="237.74" x2="222.3" y2="237.74" stroke="#222" stroke-width="0.9"/>
<line x1="220.3" y1="234.56" x2="222.3" y2="234.56" stroke="#222" stroke-width="0.9"/>
<line x1="220.3" y1="231.38" x2="222.3" y2="231.38" stroke="#222" stroke-width="0.9"/>
<line x1="220.3" y1="228.2" x2="222.3" y2="228.2" stroke="#222" stroke-width="0.9"/>
<line x1="220.3" y1="225.02" x2="222.3" y2="225.02" stroke="#222" stroke-width="0.9"/>
<line x1="220.3" y1="221.84" x2="222.3" y2="221.84" stroke="#222" stroke-width="0.9"/>
<line x1="220.3" y1="218.66" x2="222.3" y2="218.66" stroke="#222" stroke-width="0.9"/>
<line x1="220.3" y1="215.48" x2="222.3" y2="215.48" stroke="#222" stroke-width="0.9"/>
<line x1="220.3" y1="212.3" x2="222.3" y2="212.3" stroke="#222" stroke-width="0.9"/>
<line x1="220.3" y1="209.12" x2="222.3" y2="209.12" stroke="#222" stroke-width="0.9"/>
<line x1="220.3" y1="205.94" x2="222.3" y2="205.94" stroke="#222" stroke-width="0.9"/>
<line x1="220.3" y1="202.76" x2="222.3" y2="202.76" stroke="#222" stroke-width="0.9"/>
<line x1="220.3" y1="199.58" x2="222.3" y2="199.58" stroke="#222" stroke-width="0.9"/>
<line x1="220.3" y1="196.4" x2="222.3" y2="196.4" stroke="#222" stroke-width="0.9"/>
<line x1="219.3" y1="260" x2="222.3" y2="260" stroke="#222" stroke-width="0.9"/>
<text x="219.4" y="262.4" font-size="7.2" font-family="'Liberation Serif', serif" text-anchor="end" fill="#444" textLength="3.2" lengthAdjust="spacingAndGlyphs">0</text>
<line x1="219.3" y1="244.1" x2="222.3" y2="244.1" stroke="#222" stroke-width="0.9"/>
<text x="219.4" y="246.5" font-size="7.2" font-family="'Liberation Serif', serif" text-anchor="end" fill="#444" textLength="12.8" lengthAdjust="spacingAndGlyphs">1000</text>
<line x1="219.3" y1="228.2" x2="222.3" y2="228.2" stroke="#222" stroke-width="0.9"/>
<text x="219.4" y="230.6" font-size="7.2" font-family="'Liberation Serif', serif" text-anchor="end" fill="#444" textLength="12.8" lengthAdjust="spacingAndGlyphs">2000</text>
<line x1="219.3" y1="212.3" x2="222.3" y2="212.3" stroke="#222" stroke-width="0.9"/>
<text x="219.4" y="214.7" font-size="7.2" font-family="'Liberation Serif', serif" text-anchor="end" fill="#444" textLength="12.8" lengthAdjust="spacingAndGlyphs">3000</text>
<line x1="225.7" y1="259.7" x2="225.7" y2="262.7" stroke="#222" stroke-width="0.9"/>
<line x1="230.5" y1="259.7" x2="230.5" y2="262.7" stroke="#222" stroke-width="0.9"/>
<line x1="235.31" y1="259.7" x2="235.31" y2="262.7" stroke="#222" stroke-width="0.9"/>
<line x1="240.11" y1="259.7" x2="240.11" y2="262.7" stroke="#222" stroke-width="0.9"/>
<line x1="244.92" y1="259.7" x2="244.92" y2="262.7" stroke="#222" stroke-width="0.9"/>
<line x1="249.72" y1="259.7" x2="249.72" y2="262.7" stroke="#222" stroke-width="0.9"/>
<line x1="254.53" y1="259.7" x2="254.53" y2="262.7" stroke="#222" stroke-width="0.9"/>
<line x1="259.33" y1="259.7" x2="259.33" y2="262.7" stroke="#222" stroke-width="0.9"/>
<line x1="264.14" y1="259.7" x2="264.14" y2="262.7" stroke="#222" stroke-width="0.9"/>
<line x1="268.94" y1="259.7" x2="268.94" y2="262.7" stroke="#222" stroke-width="0.9"/>
<line x1="273.75" y1="259.7" x2="273.75" y2="262.7" stroke="#222" stroke-width="0.9"/>
<line x1="278.56" y1="259.7" x2="278.56" y2="262.7" stroke="#222" stroke-width="0.9"/>
<line x1="283.36" y1="259.7" x2="283.36" y2="262.7" stroke="#222" stroke-width="0.9"/>
<line x1="288.16" y1="259.7" x2="288.16" y2="262.7" stroke="#222" stroke-width="0.9"/>
<line x1="292.97" y1="259.7" x2="292.97" y2="262.7" stroke="#222" stroke-width="0.9"/>
<line x1="297.77" y1="259.7" x2="297.77" y2="262.7" stroke="#222" stroke-width="0.9"/>
<line x1="302.58" y1="259.7" x2="302.58" y2="262.7" stroke="#222" stroke-width="0.9"/>
<line x1="307.38" y1="259.7" x2="307.38" y2="262.7" stroke="#222" stroke-width="0.9"/>
<line x1="312.19" y1="259.7" x2="312.19" y2="262.7" stroke="#222" stroke-width="0.9"/>
<line x1="317" y1="259.7" x2="317" y2="262.7" stroke="#222" stroke-width="0.9"/>
<line x1="321.8" y1="259.7" x2="321.8" y2="262.7" stroke="#222" stroke-width="0.9"/>
<line x1="326.61" y1="259.7" x2="326.61" y2="262.7" stroke="#222" stroke-width="0.9"/>
<line x1="331.41" y1="259.7" x2="331.41" y2="262.7" stroke="#222" stroke-width="0.9"/>
<line x1="336.21" y1="259.7" x2="336.21" y2="262.7" stroke="#222" stroke-width="0.9"/>
<line x1="341.02" y1="259.7" x2="341.02" y2="262.7" stroke="#222" stroke-width="0.9"/>
<line x1="345.82" y1="259.7" x2="345.82" y2="262.7" stroke="#222" stroke-width="0.9"/>
<line x1="350.63" y1="259.7" x2="350.63" y2="262.7" stroke="#222" stroke-width="0.9"/>
<line x1="355.44" y1="259.7" x2="355.44" y2="262.7" stroke="#222" stroke-width="0.9"/>
<line x1="360.24" y1="259.7" x2="360.24" y2="262.7" stroke="#222" stroke-width="0.9"/>
<line x1="365.04" y1="259.7" x2="365.04" y2="262.7" stroke="#222" stroke-width="0.9"/>
<line x1="369.85" y1="259.7" x2="369.85" y2="262.7" stroke="#222" stroke-width="0.9"/>
<line x1="374.65" y1="259.7" x2="374.65" y2="262.7" stroke="#222" stroke-width="0.9"/>
<line x1="379.46" y1="259.7" x2="379.46" y2="262.7" stroke="#222" stroke-width="0.9"/>
<line x1="384.26" y1="259.7" x2="384.26" y2="262.7" stroke="#222" stroke-width="0.9"/>
<line x1="389.07" y1="259.7" x2="389.07" y2="262.7" stroke="#222" stroke-width="0.9"/>
<line x1="393.88" y1="259.7" x2="393.88" y2="262.7" stroke="#222" stroke-width="0.9"/>
<line x1="398.68" y1="259.7" x2="398.68" y2="262.7" stroke="#222" stroke-width="0.9"/>
<line x1="403.49" y1="259.7" x2="403.49" y2="262.7" stroke="#222" stroke-width="0.9"/>
<line x1="408.29" y1="259.7" x2="408.29" y2="262.7" stroke="#222" stroke-width="0.9"/>
<line x1="413.1" y1="259.7" x2="413.1" y2="262.7" stroke="#222" stroke-width="0.9"/>
<line x1="417.9" y1="259.7" x2="417.9" y2="262.7" stroke="#222" stroke-width="0.9"/>
<line x1="422.71" y1="259.7" x2="422.71" y2="262.7" stroke="#222" stroke-width="0.9"/>
<line x1="427.51" y1="259.7" x2="427.51" y2="262.7" stroke="#222" stroke-width="0.9"/>
<line x1="432.31" y1="259.7" x2="432.31" y2="262.7" stroke="#222" stroke-width="0.9"/>
<line x1="437.12" y1="259.7" x2="437.12" y2="262.7" stroke="#222" stroke-width="0.9"/>
<line x1="441.93" y1="259.7" x2="441.93" y2="262.7" stroke="#222" stroke-width="0.9"/>
<line x1="225.7" y1="259.7" x2="225.7" y2="263.2" stroke="#222" stroke-width="0.9"/>
<text x="225.7" y="268.4" font-size="6.8" font-family="'Liberation Serif', serif" text-anchor="middle" fill="#444" textLength="9.8" lengthAdjust="spacingAndGlyphs">2500</text>
<line x1="249.72" y1="259.7" x2="249.72" y2="263.2" stroke="#222" stroke-width="0.9"/>
<text x="249.72" y="268.4" font-size="6.8" font-family="'Liberation Serif', serif" text-anchor="middle" fill="#444" textLength="9.8" lengthAdjust="spacingAndGlyphs">2750</text>
<line x1="273.75" y1="259.7" x2="273.75" y2="263.2" stroke="#222" stroke-width="0.9"/>
<text x="273.75" y="268.4" font-size="6.8" font-family="'Liberation Serif', serif" text-anchor="middle" fill="#444" textLength="9.8" lengthAdjust="spacingAndGlyphs">3000</text>
<line x1="297.77" y1="259.7" x2="297.77" y2="263.2" stroke="#222" stroke-width="0.9"/>
<text x="297.77" y="268.4" font-size="6.8" font-family="'Liberation Serif', serif" text-anchor="middle" fill="#444" textLength="9.8" lengthAdjust="spacingAndGlyphs">3250</text>
<line x1="321.8" y1="259.7" x2="321.8" y2="263.2" stroke="#222" stroke-width="0.9"/>
<text x="321.8" y="268.4" font-size="6.8" font-family="'Liberation Serif', serif" text-anchor="middle" fill="#444" textLength="9.8" lengthAdjust="spacingAndGlyphs">3500</text>
<line x1="345.82" y1="259.7" x2="345.82" y2="263.2" stroke="#222" stroke-width="0.9"/>
<text x="345.82" y="268.4" font-size="6.8" font-family="'Liberation Serif', serif" text-anchor="middle" fill="#444" textLength="9.8" lengthAdjust="spacingAndGlyphs">3750</text>
<line x1="369.85" y1="259.7" x2="369.85" y2="263.2" stroke="#222" stroke-width="0.9"/>
<text x="369.85" y="268.4" font-size="6.8" font-family="'Liberation Serif', serif" text-anchor="middle" fill="#444" textLength="9.8" lengthAdjust="spacingAndGlyphs">4000</text>
<line x1="393.88" y1="259.7" x2="393.88" y2="263.2" stroke="#222" stroke-width="0.9"/>
<text x="393.88" y="268.4" font-size="6.8" font-family="'Liberation Serif', serif" text-anchor="middle" fill="#444" textLength="9.8" lengthAdjust="spacingAndGlyphs">4250</text>
<line x1="417.9" y1="259.7" x2="417.9" y2="263.2" stroke="#222" stroke-width="0.9"/>
<text x="417.9" y="268.4" font-size="6.8" font-family="'Liberation Serif', serif" text-anchor="middle" fill="#444" textLength="9.8" lengthAdjust="spacingAndGlyphs">4500</text>
<text x="201.8" y="215.8" font-size="7" font-family="'Liberation Sans', sans-serif" text-anchor="middle" fill="#1a1a1a" stroke="#1a1a1a" stroke-width="0.25" textLength="36" lengthAdjust="spacingAndGlyphs" transform="rotate(-90 201.8 215.8)">Intens. [a.u.]</text>
<text x="443.8" y="275.7" font-size="8.0" font-family="'Liberation Sans', sans-serif" text-anchor="end" fill="#111" stroke="#111" stroke-width="0.2" textLength="10.2" lengthAdjust="spacingAndGlyphs">m/z</text>
<polyline points="222.8,255.74 223.7,255.62 224.6,255.83 225.5,254.75 226.4,255.1 227.3,255.5 228.2,255.85 229.1,255.84 230,255.02 230.9,255.09 231.8,255.81 232.7,255.25 233.6,254.96 234.5,255.5 235.4,255.66 236.3,255.71 237.2,254.88 238.1,255.64 239,254.97 239.9,255.04 240.8,255.73 241.7,255.61 242.6,256.06 243.5,254.39 244.4,255.61 245.3,255.76 246.2,255.99 247.1,256.1 248,256.11 248.9,256.08 249.8,255.47 250.7,255.8 251.6,256.2 252.5,256.16 253.4,255.75 254.3,256.11 255.2,254.36 256.1,255.24 257,255.59 257.9,256.31 258.8,255.11 259.7,256.11 260.6,255.84 261.5,256.25 262.4,256.11 263.3,256.19 264.2,255.4 265.1,256.37 266,256.25 266.9,256.42 267.8,256.21 268.7,255.45 269.6,255.88 270.5,256.48 271.4,256.42 272.3,256.49 273.2,255.74 274.1,255.27 275,256.47 275.9,256.56 276.8,256.49 277.7,255.69 278.6,256.6 279.5,256.53 280.4,256.55 281.3,254.7 282.2,256.23 283.1,256.45 284,256.12 284.9,255.97 285.8,256.69 286.7,255.72 287.6,255.61 288.5,256.18 289.4,256.21 290.3,256.4 291.2,256.16 292.1,255.68 293,256.79 293.9,255.61 294.8,256.82 295.7,256.82 296.6,256.27 297.5,256.83 298.4,256.46 299.3,255.77 300.2,256.9 301.1,256.9 302,256.89 302.9,256.11 303.8,256.52 304.7,256.86 305.6,256.78 306.5,256.14 307.4,255.72 308.3,256.47 309.2,255.96 310.1,256.91 311,256.17 311.9,256.94 312.8,256.05 313.7,256.56 314.6,256.14 315.5,256.88 316.4,255.74 317.3,256.94 318.2,255.94 319.1,256.72 320,256.18 320.9,255.96 321.8,256.86 322.7,256.75 323.6,256.94 324.5,256.94 325.4,256.67 326.3,256.61 327.2,255.16 328.1,256.61 329,256.33 329.9,257 330.8,256.07 331.7,256.25 332.6,256.5 333.5,256.53 334.4,255.94 335.3,255.94 336.2,256.05 337.1,256.54 338,257.01 338.9,256.86 339.8,257.01 340.7,257.01 341.6,257 342.5,256.87 343.4,256.89 344.3,257.04 345.2,255.92 346.1,256.5 347,256.12 347.9,255.89 348.8,256.23 349.7,255.89 350.6,256.63 351.5,256.65 352.4,256.33 353.3,257.07 354.2,256.49 355.1,256.59 356,256.97 356.9,256.88 357.8,256.05 358.7,256.98 359.6,256.97 360.5,255.82 361.4,256.9 362.3,256.25 363.2,255.88 364.1,256.74 365,256.63 365.9,255.95 366.8,257.1 367.7,255.9 368.6,256.04 369.5,257.01 370.4,257.06 371.3,256.03 372.2,256.36 373.1,257.08 374,255.99 374.9,256.35 375.8,256.77 376.7,257.08 377.6,257.14 378.5,257.17 379.4,257.15 380.3,255.9 381.2,256.15 382.1,256.49 383,256.01 383.9,256.52 384.8,256.57 385.7,256.8 386.6,257.17 387.5,256.9 388.4,257.17 389.3,257.12 390.2,256.61 391.1,257.07 392,255.13 392.9,257.22 393.8,257.19 394.7,256.29 395.6,257.16 396.5,256.94 397.4,257.19 398.3,255.95 399.2,256.14 400.1,257.06 401,256.34 401.9,257.24 402.8,256.17 403.7,256.71 404.6,255.23 405.5,257.18 406.4,256.7 407.3,256.23 408.2,257.12 409.1,256.24 410,256.27 410.9,256.65 411.8,256.92 412.7,257.13 413.6,256.63 414.5,256.91 415.4,257.22 416.3,257.29 417.2,256.23 418.1,257.29 419,256.42 419.9,257.31 420.8,256.81 421.7,257.32 422.6,257.32 423.5,257.3 424.4,256.3 425.3,256.47 426.2,257.14 427.1,257.34 428,256.11 428.9,256.38 429.8,256.73 430.7,256.71 431.6,255.45 432.5,256.23 433.4,256.62 434.3,256.85 435.2,257.23 436.1,257.28 437,257.37 437.9,257.27 438.8,257.36 439.7,257.37 440.6,257.35 441.5,257.33 442.4,256.81 443.3,257.07" fill="none" stroke="#111" stroke-width="1.4" stroke-linejoin="round"/>
<line x1="224.5" y1="256.14" x2="224.5" y2="250" stroke="#222" stroke-width="1"/>
<line x1="226.2" y1="256.16" x2="226.2" y2="243.9" stroke="#222" stroke-width="1.6"/>
<line x1="228" y1="256.18" x2="228" y2="210.5" stroke="#222" stroke-width="1"/>
<line x1="229.2" y1="256.2" x2="229.2" y2="248" stroke="#222" stroke-width="1"/>
<line x1="231" y1="256.23" x2="231" y2="250" stroke="#222" stroke-width="1"/>
<line x1="245.8" y1="256.44" x2="245.8" y2="247.5" stroke="#222" stroke-width="1.6"/>
<line x1="247.2" y1="256.46" x2="247.2" y2="222.8" stroke="#222" stroke-width="1"/>
<line x1="248.6" y1="256.48" x2="248.6" y2="250" stroke="#222" stroke-width="1"/>
<line x1="265.6" y1="256.71" x2="265.6" y2="250.5" stroke="#222" stroke-width="1"/>
<line x1="266.7" y1="256.73" x2="266.7" y2="233.8" stroke="#222" stroke-width="1"/>
<line x1="285.5" y1="257" x2="285.5" y2="249" stroke="#222" stroke-width="1.2"/>
<line x1="286.8" y1="257.01" x2="286.8" y2="241.6" stroke="#222" stroke-width="1"/>
<line x1="305" y1="257.22" x2="305" y2="250" stroke="#222" stroke-width="1"/>
<line x1="306" y1="257.22" x2="306" y2="246.4" stroke="#222" stroke-width="1"/>
<line x1="324.4" y1="257.28" x2="324.4" y2="249.5" stroke="#222" stroke-width="1.2"/>
<line x1="344.1" y1="257.35" x2="344.1" y2="251.5" stroke="#222" stroke-width="1"/>
<line x1="363.4" y1="257.42" x2="363.4" y2="252.5" stroke="#222" stroke-width="1"/>
<line x1="383.1" y1="257.49" x2="383.1" y2="253" stroke="#222" stroke-width="1"/>
<line x1="402.4" y1="257.55" x2="402.4" y2="254" stroke="#222" stroke-width="1"/>
<line x1="420.4" y1="257.62" x2="420.4" y2="254" stroke="#222" stroke-width="1"/>
<text x="229.8" y="210.43" font-size="4.8" font-family="'Liberation Sans', sans-serif" text-anchor="middle" fill="#111" font-weight="bold">12H</text>
<text x="248.4" y="223.23" font-size="4.8" font-family="'Liberation Sans', sans-serif" text-anchor="middle" fill="#111" font-weight="bold">13H</text>
<text x="267.6" y="233.73" font-size="4.8" font-family="'Liberation Sans', sans-serif" text-anchor="middle" fill="#111" font-weight="bold">14H</text>
<text x="287.7" y="241.83" font-size="4.8" font-family="'Liberation Sans', sans-serif" text-anchor="middle" fill="#111" font-weight="bold">15H</text>
<text x="306.3" y="246.63" font-size="4.8" font-family="'Liberation Sans', sans-serif" text-anchor="middle" fill="#111" font-weight="bold">16H</text>
<text x="325.2" y="249.43" font-size="4.8" font-family="'Liberation Sans', sans-serif" text-anchor="middle" fill="#111" font-weight="bold">17H</text>
<text x="345.1" y="251.63" font-size="4.8" font-family="'Liberation Sans', sans-serif" text-anchor="middle" fill="#111" font-weight="bold">18H</text>
<text x="364.7" y="253.43" font-size="4.8" font-family="'Liberation Sans', sans-serif" text-anchor="middle" fill="#111" font-weight="bold">19H</text>
<text x="383.9" y="253.23" font-size="4.8" font-family="'Liberation Sans', sans-serif" text-anchor="middle" fill="#111" font-weight="bold">20H</text>
<text x="403.2" y="255.23" font-size="4.8" font-family="'Liberation Sans', sans-serif" text-anchor="middle" fill="#111" font-weight="bold">21H</text>
<text x="421.2" y="255.23" font-size="4.8" font-family="'Liberation Sans', sans-serif" text-anchor="middle" fill="#111" font-weight="bold">22H</text>
<line x1="43.1" y1="312.4" x2="448.4" y2="312.4" stroke="#555" stroke-width="1.3"/>
<line x1="448.4" y1="312.4" x2="448.4" y2="411.8" stroke="#555" stroke-width="1.3"/>
<line x1="43.1" y1="311.75" x2="43.1" y2="412.4" stroke="#222" stroke-width="1.2"/>
<line x1="42.5" y1="411.8" x2="449.05" y2="411.8" stroke="#222" stroke-width="1.2"/>
<line x1="41.1" y1="411.6" x2="43.1" y2="411.6" stroke="#222" stroke-width="0.9"/>
<line x1="41.1" y1="406.78" x2="43.1" y2="406.78" stroke="#222" stroke-width="0.9"/>
<line x1="41.1" y1="401.96" x2="43.1" y2="401.96" stroke="#222" stroke-width="0.9"/>
<line x1="41.1" y1="397.14" x2="43.1" y2="397.14" stroke="#222" stroke-width="0.9"/>
<line x1="41.1" y1="392.32" x2="43.1" y2="392.32" stroke="#222" stroke-width="0.9"/>
<line x1="41.1" y1="387.5" x2="43.1" y2="387.5" stroke="#222" stroke-width="0.9"/>
<line x1="41.1" y1="382.68" x2="43.1" y2="382.68" stroke="#222" stroke-width="0.9"/>
<line x1="41.1" y1="377.86" x2="43.1" y2="377.86" stroke="#222" stroke-width="0.9"/>
<line x1="41.1" y1="373.04" x2="43.1" y2="373.04" stroke="#222" stroke-width="0.9"/>
<line x1="41.1" y1="368.22" x2="43.1" y2="368.22" stroke="#222" stroke-width="0.9"/>
<line x1="41.1" y1="363.4" x2="43.1" y2="363.4" stroke="#222" stroke-width="0.9"/>
<line x1="41.1" y1="358.58" x2="43.1" y2="358.58" stroke="#222" stroke-width="0.9"/>
<line x1="41.1" y1="353.76" x2="43.1" y2="353.76" stroke="#222" stroke-width="0.9"/>
<line x1="41.1" y1="348.94" x2="43.1" y2="348.94" stroke="#222" stroke-width="0.9"/>
<line x1="41.1" y1="344.12" x2="43.1" y2="344.12" stroke="#222" stroke-width="0.9"/>
<line x1="41.1" y1="339.3" x2="43.1" y2="339.3" stroke="#222" stroke-width="0.9"/>
<line x1="41.1" y1="334.48" x2="43.1" y2="334.48" stroke="#222" stroke-width="0.9"/>
<line x1="41.1" y1="329.66" x2="43.1" y2="329.66" stroke="#222" stroke-width="0.9"/>
<line x1="41.1" y1="324.84" x2="43.1" y2="324.84" stroke="#222" stroke-width="0.9"/>
<line x1="41.1" y1="320.02" x2="43.1" y2="320.02" stroke="#222" stroke-width="0.9"/>
<line x1="40.1" y1="411.6" x2="43.1" y2="411.6" stroke="#222" stroke-width="0.9"/>
<text x="37.2" y="413.8" font-size="6" font-family="'Liberation Serif', serif" text-anchor="end" fill="#444" textLength="2.8" lengthAdjust="spacingAndGlyphs">0</text>
<line x1="40.1" y1="387.5" x2="43.1" y2="387.5" stroke="#222" stroke-width="0.9"/>
<text x="37.2" y="389.7" font-size="6" font-family="'Liberation Serif', serif" text-anchor="end" fill="#444" textLength="2.8" lengthAdjust="spacingAndGlyphs">1</text>
<line x1="40.1" y1="363.4" x2="43.1" y2="363.4" stroke="#222" stroke-width="0.9"/>
<text x="37.2" y="365.6" font-size="6" font-family="'Liberation Serif', serif" text-anchor="end" fill="#444" textLength="2.8" lengthAdjust="spacingAndGlyphs">2</text>
<line x1="40.1" y1="339.3" x2="43.1" y2="339.3" stroke="#222" stroke-width="0.9"/>
<text x="37.2" y="341.5" font-size="6" font-family="'Liberation Serif', serif" text-anchor="end" fill="#444" textLength="2.8" lengthAdjust="spacingAndGlyphs">3</text>
<line x1="40.1" y1="315.2" x2="43.1" y2="315.2" stroke="#222" stroke-width="0.9"/>
<text x="40.6" y="319.1" font-size="6.6" font-family="'Liberation Serif', serif" text-anchor="end" fill="#333">x10<tspan font-size="4.6" dy="-2.4">4</tspan></text>
<line x1="48.3" y1="411.8" x2="48.3" y2="414" stroke="#222" stroke-width="0.9"/>
<line x1="80.32" y1="411.8" x2="80.32" y2="414" stroke="#222" stroke-width="0.9"/>
<line x1="112.34" y1="411.8" x2="112.34" y2="414" stroke="#222" stroke-width="0.9"/>
<line x1="144.36" y1="411.8" x2="144.36" y2="414" stroke="#222" stroke-width="0.9"/>
<line x1="176.38" y1="411.8" x2="176.38" y2="414" stroke="#222" stroke-width="0.9"/>
<line x1="208.4" y1="411.8" x2="208.4" y2="414" stroke="#222" stroke-width="0.9"/>
<line x1="240.42" y1="411.8" x2="240.42" y2="414" stroke="#222" stroke-width="0.9"/>
<line x1="272.44" y1="411.8" x2="272.44" y2="414" stroke="#222" stroke-width="0.9"/>
<line x1="304.46" y1="411.8" x2="304.46" y2="414" stroke="#222" stroke-width="0.9"/>
<line x1="336.48" y1="411.8" x2="336.48" y2="414" stroke="#222" stroke-width="0.9"/>
<line x1="368.5" y1="411.8" x2="368.5" y2="414" stroke="#222" stroke-width="0.9"/>
<line x1="400.52" y1="411.8" x2="400.52" y2="414" stroke="#222" stroke-width="0.9"/>
<line x1="432.54" y1="411.8" x2="432.54" y2="414" stroke="#222" stroke-width="0.9"/>
<line x1="48.3" y1="411.8" x2="48.3" y2="415.3" stroke="#222" stroke-width="0.9"/>
<text x="48.3" y="420.2" font-size="6.8" font-family="'Liberation Serif', serif" text-anchor="middle" fill="#444" textLength="7.2" lengthAdjust="spacingAndGlyphs">800</text>
<line x1="112.34" y1="411.8" x2="112.34" y2="415.3" stroke="#222" stroke-width="0.9"/>
<text x="112.34" y="420.2" font-size="6.8" font-family="'Liberation Serif', serif" text-anchor="middle" fill="#444" textLength="9.6" lengthAdjust="spacingAndGlyphs">1000</text>
<line x1="176.38" y1="411.8" x2="176.38" y2="415.3" stroke="#222" stroke-width="0.9"/>
<text x="176.38" y="420.2" font-size="6.8" font-family="'Liberation Serif', serif" text-anchor="middle" fill="#444" textLength="9.6" lengthAdjust="spacingAndGlyphs">1200</text>
<line x1="240.42" y1="411.8" x2="240.42" y2="415.3" stroke="#222" stroke-width="0.9"/>
<text x="240.42" y="420.2" font-size="6.8" font-family="'Liberation Serif', serif" text-anchor="middle" fill="#444" textLength="9.6" lengthAdjust="spacingAndGlyphs">1400</text>
<line x1="304.46" y1="411.8" x2="304.46" y2="415.3" stroke="#222" stroke-width="0.9"/>
<text x="304.46" y="420.2" font-size="6.8" font-family="'Liberation Serif', serif" text-anchor="middle" fill="#444" textLength="9.6" lengthAdjust="spacingAndGlyphs">1600</text>
<line x1="368.5" y1="411.8" x2="368.5" y2="415.3" stroke="#222" stroke-width="0.9"/>
<text x="368.5" y="420.2" font-size="6.8" font-family="'Liberation Serif', serif" text-anchor="middle" fill="#444" textLength="9.6" lengthAdjust="spacingAndGlyphs">1800</text>
<line x1="432.54" y1="411.8" x2="432.54" y2="415.3" stroke="#222" stroke-width="0.9"/>
<text x="432.54" y="420.2" font-size="6.8" font-family="'Liberation Serif', serif" text-anchor="middle" fill="#444" textLength="9.6" lengthAdjust="spacingAndGlyphs">2000</text>
<text x="22.2" y="333.4" font-size="7" font-family="'Liberation Sans', sans-serif" text-anchor="middle" fill="#1a1a1a" stroke="#1a1a1a" stroke-width="0.25" textLength="34.5" lengthAdjust="spacingAndGlyphs" transform="rotate(-90 22.2 333.4)">Intens. [a.u.]</text>
<text x="6.3" y="333.8" font-size="12" font-family="'Liberation Serif', serif" text-anchor="middle" fill="#111" font-weight="bold">C</text>
<text x="447.3" y="426.2" font-size="8.0" font-family="'Liberation Sans', sans-serif" text-anchor="end" fill="#111" stroke="#111" stroke-width="0.2" textLength="10.2" lengthAdjust="spacingAndGlyphs">m/z</text>
<polyline points="43.6,410.29 44.6,410.09 45.6,410.16 46.6,410.6 47.6,409.89 48.6,409.95 49.6,410.42 50.6,410.36 51.6,410.6 52.6,410.54 53.6,410.13 54.6,410.09 55.6,410.3 56.6,410.6 57.6,410.56 58.6,409.83 59.6,410.53 60.6,410.37 61.6,410.57 62.6,410.22 63.6,409.96 64.6,410.5 65.6,410.58 66.6,410.53 67.6,410.6 68.6,410.51 69.6,410.06 70.6,410.52 71.6,410.2 72.6,407.39 73.6,407.5 74.6,410.49 75.6,409.4 76.6,409.87 77.6,410.14 78.6,409.89 79.6,410.5 80.6,410.12 81.6,410.15 82.6,407.13 83.6,410.59 84.6,410.3 85.6,410.51 86.6,410.36 87.6,410.52 88.6,410.6 89.6,410.22 90.6,407.61 91.6,410.37 92.6,410.55 93.6,410.05 94.6,410.46 95.6,408.04 96.6,410.04 97.6,410.17 98.6,410.28 99.6,410.59 100.6,410.58 101.6,410.53 102.6,409.8 103.6,409.84 104.6,410.41 105.6,410.42 106.6,410.47 107.6,410.49 108.6,409.86 109.6,410.4 110.6,410.59 111.6,410.11 112.6,410.5 113.6,410.12 114.6,410.25 115.6,410.49 116.6,410.54 117.6,410.13 118.6,410.53 119.6,410.26 120.6,410.6 121.6,410.55 122.6,410.43 123.6,410.26 124.6,410.5 125.6,410.16 126.6,410.5 127.6,409.99 128.6,409.84 129.6,410.39 130.6,410.58 131.6,409.9 132.6,410.22 133.6,410.17 134.6,410.11 135.6,410.25 136.6,410.29 137.6,410.28 138.6,410.6 139.6,410.44 140.6,410.56 141.6,408.44 142.6,410.56 143.6,410.59 144.6,410.57 145.6,410.6 146.6,410.48 147.6,410.32 148.6,408.26 149.6,410.54 150.6,410.59 151.6,408.34 152.6,410.59 153.6,410.51 154.6,409.87 155.6,410.46 156.6,410.27 157.6,410.58 158.6,410.35 159.6,409.85 160.6,410.5 161.6,410.6 162.6,410.34 163.6,410.58 164.6,409.96 165.6,410.45 166.6,410.53 167.6,410.48 168.6,409.93 169.6,410.55 170.6,410.4 171.6,410.52 172.6,410.41 173.6,410.42 174.6,410.29 175.6,410.53 176.6,408.08 177.6,410.54 178.6,410.11 179.6,410.54 180.6,409.82 181.6,410.3 182.6,410.27 183.6,410.16 184.6,410.14 185.6,410.37 186.6,410.53 187.6,410.43 188.6,410.16 189.6,410.6 190.6,410.43 191.6,409.97 192.6,410.6 193.6,410.45 194.6,410.2 195.6,410.41 196.6,410.48 197.6,410.02 198.6,410.53 199.6,410.6 200.6,410.21 201.6,410.53 202.6,409.94 203.6,410.42 204.6,410.4 205.6,410.58 206.6,410.07 207.6,410.56 208.6,410.1 209.6,410.6 210.6,409.83 211.6,407.55 212.6,410.56 213.6,409.87 214.6,410.59 215.6,409.93 216.6,410.3 217.6,410.58 218.6,410.6 219.6,410.48 220.6,410.6 221.6,410.16 222.6,410.59 223.6,410.52 224.6,410.41 225.6,410.49 226.6,410.21 227.6,410.28 228.6,409.94 229.6,410.29 230.6,410.36 231.6,410.15 232.6,410.59 233.6,410.49 234.6,410.57 235.6,410.26 236.6,410.24 237.6,410.59 238.6,410.55 239.6,410.42 240.6,407.7 241.6,410.6 242.6,409.87 243.6,410.56 244.6,409.84 245.6,410.06 246.6,410.29 247.6,410.56 248.6,410.3 249.6,410.48 250.6,410.05 251.6,410.08 252.6,410.02 253.6,410.32 254.6,410.16 255.6,409.35 256.6,410.6 257.6,410.41 258.6,410.6 259.6,409.97 260.6,410.45 261.6,410.59 262.6,410.58 263.6,410.48 264.6,410.58 265.6,410.54 266.6,410.53 267.6,407.58 268.6,410.49 269.6,410.22 270.6,410.42 271.6,410.59 272.6,410.53 273.6,410.17 274.6,409.26 275.6,410.6 276.6,409.84 277.6,410.52 278.6,410.54 279.6,410.19 280.6,410.55 281.6,409.89 282.6,410.45 283.6,410.6 284.6,410.11 285.6,410.6 286.6,409.82 287.6,410.5 288.6,410.6 289.6,410.41 290.6,410.6 291.6,410.6 292.6,410.6 293.6,410.47 294.6,407.66 295.6,410.57 296.6,410.47 297.6,410.59 298.6,410.59 299.6,409.92 300.6,410.01 301.6,410.6 302.6,410.41 303.6,410.49 304.6,410.18 305.6,410.52 306.6,410.05 307.6,410.59 308.6,410.59 309.6,410.06 310.6,410.59 311.6,410.55 312.6,410.45 313.6,410.55 314.6,408.97 315.6,410.53 316.6,410.59 317.6,410.52 318.6,410.35 319.6,410.26 320.6,410.34 321.6,410.07 322.6,409.87 323.6,410.21 324.6,410.07 325.6,410.59 326.6,410.58 327.6,410.23 328.6,410.6 329.6,409.44 330.6,410.59 331.6,410.01 332.6,410.3 333.6,410.45 334.6,408.43 335.6,410.05 336.6,410.59 337.6,410.58 338.6,410.44 339.6,410.09 340.6,410.52 341.6,410.43 342.6,410.44 343.6,409.9 344.6,409.85 345.6,410.59 346.6,410.46 347.6,407.77 348.6,410.41 349.6,410.48 350.6,410.54 351.6,410.35 352.6,410.15 353.6,410.5 354.6,409.83 355.6,410.02 356.6,410.47 357.6,410.05 358.6,410.6 359.6,410.59 360.6,409.95 361.6,410.09 362.6,410.23 363.6,410.29 364.6,408.56 365.6,410.32 366.6,410.48 367.6,410.6 368.6,410.48 369.6,410.2 370.6,409.83 371.6,409.92 372.6,410.24 373.6,410.09 374.6,410.32 375.6,410.38 376.6,410.6 377.6,410.5 378.6,410.14 379.6,410.52 380.6,410.54 381.6,410.6 382.6,410.24 383.6,409.96 384.6,410.04 385.6,410.3 386.6,410.39 387.6,410.55 388.6,410.36 389.6,410.6 390.6,410.57 391.6,409.95 392.6,410.3 393.6,410.59 394.6,410.35 395.6,410.49 396.6,410.56 397.6,410.54 398.6,409.96 399.6,410.28 400.6,410.56 401.6,410.34 402.6,409.98 403.6,410.46 404.6,410.38 405.6,410.53 406.6,410.31 407.6,409.52 408.6,410.35 409.6,410.57 410.6,410.32 411.6,410.22 412.6,410.6 413.6,410.04 414.6,410.52 415.6,410.27 416.6,410.56 417.6,410.03 418.6,410.59 419.6,410.58 420.6,410.58 421.6,410.59 422.6,410.17 423.6,410.08 424.6,409.92 425.6,410.29 426.6,410.59 427.6,410.6 428.6,410.49 429.6,410.23 430.6,410.59 431.6,410.36 432.6,410.59 433.6,410.49 434.6,410.4 435.6,409.89 436.6,410.14 437.6,410.53 438.6,410.42 439.6,410.17 440.6,410.48 441.6,410.4 442.6,410.1 443.6,410.53 444.6,410.02 445.6,410.6 446.6,410.55 447.6,410.6" fill="none" stroke="#111" stroke-width="1.2" stroke-linejoin="round"/>
<line x1="47.4" y1="410.2" x2="47.4" y2="397.3" stroke="#222" stroke-width="1.1"/>
<line x1="52.2" y1="410.2" x2="52.2" y2="407" stroke="#222" stroke-width="1.1"/>
<line x1="56.7" y1="410.2" x2="56.7" y2="400.8" stroke="#222" stroke-width="1.1"/>
<line x1="61.9" y1="410.2" x2="61.9" y2="340" stroke="#222" stroke-width="1.1"/>
<line x1="65.9" y1="410.2" x2="65.9" y2="402.2" stroke="#222" stroke-width="1.1"/>
<line x1="71.2" y1="410.2" x2="71.2" y2="398.7" stroke="#222" stroke-width="1.1"/>
<line x1="76" y1="410.2" x2="76" y2="327.5" stroke="#222" stroke-width="1.1"/>
<line x1="80" y1="410.2" x2="80" y2="405.2" stroke="#222" stroke-width="1.1"/>
<line x1="84.4" y1="410.2" x2="84.4" y2="408.8" stroke="#222" stroke-width="1.1"/>
<line x1="89.2" y1="410.2" x2="89.2" y2="407.9" stroke="#222" stroke-width="1.1"/>
<line x1="94.1" y1="410.2" x2="94.1" y2="407.4" stroke="#222" stroke-width="1.1"/>
<line x1="98.5" y1="410.2" x2="98.5" y2="400" stroke="#222" stroke-width="1.1"/>
<line x1="103.8" y1="410.2" x2="103.8" y2="407.9" stroke="#222" stroke-width="1.1"/>
<line x1="108.6" y1="410.2" x2="108.6" y2="403.5" stroke="#222" stroke-width="1.1"/>
<line x1="113.1" y1="410.2" x2="113.1" y2="356.3" stroke="#222" stroke-width="1.1"/>
<line x1="117.9" y1="410.2" x2="117.9" y2="407.4" stroke="#222" stroke-width="1.1"/>
<line x1="122.6" y1="410.2" x2="122.6" y2="407.3" stroke="#222" stroke-width="1.1"/>
<line x1="127" y1="410.2" x2="127" y2="393.6" stroke="#222" stroke-width="1.1"/>
<line x1="131.5" y1="410.2" x2="131.5" y2="408.2" stroke="#222" stroke-width="1.1"/>
<line x1="136.7" y1="410.2" x2="136.7" y2="408.2" stroke="#222" stroke-width="1.1"/>
<line x1="141.1" y1="410.2" x2="141.1" y2="400" stroke="#222" stroke-width="1.1"/>
<line x1="145.6" y1="410.2" x2="145.6" y2="408.2" stroke="#222" stroke-width="1.1"/>
<line x1="150" y1="410.2" x2="150" y2="398.5" stroke="#222" stroke-width="1.1"/>
<line x1="155.2" y1="410.2" x2="155.2" y2="409" stroke="#222" stroke-width="1.1"/>
<line x1="159.6" y1="410.2" x2="159.6" y2="407.3" stroke="#222" stroke-width="1.1"/>
<line x1="164.4" y1="410.2" x2="164.4" y2="392.3" stroke="#222" stroke-width="1.1"/>
<line x1="169.3" y1="410.2" x2="169.3" y2="408.2" stroke="#222" stroke-width="1.1"/>
<line x1="173.7" y1="410.2" x2="173.7" y2="409" stroke="#222" stroke-width="1.1"/>
<line x1="178.1" y1="410.2" x2="178.1" y2="395.5" stroke="#222" stroke-width="1.1"/>
<line x1="183.4" y1="410.2" x2="183.4" y2="409" stroke="#222" stroke-width="1.1"/>
<line x1="187.8" y1="410.2" x2="187.8" y2="409" stroke="#222" stroke-width="1.1"/>
<line x1="192.2" y1="410.2" x2="192.2" y2="406.8" stroke="#222" stroke-width="1.1"/>
<line x1="197.5" y1="410.2" x2="197.5" y2="409" stroke="#222" stroke-width="1.1"/>
<line x1="201.2" y1="410.2" x2="201.2" y2="406.7" stroke="#222" stroke-width="1.1"/>
<line x1="206.5" y1="410.2" x2="206.5" y2="405" stroke="#222" stroke-width="1.1"/>
<line x1="211.2" y1="410.2" x2="211.2" y2="407.6" stroke="#222" stroke-width="1.1"/>
<line x1="215.8" y1="410.2" x2="215.8" y2="386" stroke="#222" stroke-width="1.1"/>
<line x1="220.6" y1="410.2" x2="220.6" y2="408.5" stroke="#222" stroke-width="1.1"/>
<line x1="225" y1="410.2" x2="225" y2="408.1" stroke="#222" stroke-width="1.1"/>
<line x1="229.9" y1="410.2" x2="229.9" y2="403.6" stroke="#222" stroke-width="1.1"/>
<line x1="234.6" y1="410.2" x2="234.6" y2="409" stroke="#222" stroke-width="1.1"/>
<line x1="239" y1="410.2" x2="239" y2="409" stroke="#222" stroke-width="1.1"/>
<line x1="243.5" y1="410.2" x2="243.5" y2="405" stroke="#222" stroke-width="1.1"/>
<line x1="247.9" y1="410.2" x2="247.9" y2="409" stroke="#222" stroke-width="1.1"/>
<line x1="252.5" y1="410.2" x2="252.5" y2="409.2" stroke="#222" stroke-width="1.1"/>
<line x1="257" y1="410.2" x2="257" y2="409.2" stroke="#222" stroke-width="1.1"/>
<line x1="262" y1="410.2" x2="262" y2="409.2" stroke="#222" stroke-width="1.1"/>
<line x1="267.2" y1="410.2" x2="267.2" y2="406.5" stroke="#222" stroke-width="1.1"/>
<line x1="272.3" y1="410.2" x2="272.3" y2="404.5" stroke="#222" stroke-width="1.1"/>
<line x1="277.1" y1="410.2" x2="277.1" y2="406.4" stroke="#222" stroke-width="1.1"/>
<line x1="280.9" y1="410.2" x2="280.9" y2="402.2" stroke="#222" stroke-width="1.1"/>
<line x1="287" y1="410.2" x2="287" y2="407.2" stroke="#222" stroke-width="1.1"/>
<line x1="293.2" y1="410.2" x2="293.2" y2="406.4" stroke="#222" stroke-width="1.1"/>
<line x1="298" y1="410.2" x2="298" y2="408.2" stroke="#222" stroke-width="1.1"/>
<line x1="303" y1="410.2" x2="303" y2="409.2" stroke="#222" stroke-width="1.1"/>
<line x1="309" y1="410.2" x2="309" y2="408.4" stroke="#222" stroke-width="1.1"/>
<line x1="314" y1="410.2" x2="314" y2="409.2" stroke="#222" stroke-width="1.1"/>
<line x1="319" y1="410.2" x2="319" y2="408.4" stroke="#222" stroke-width="1.1"/>
<line x1="325" y1="410.2" x2="325" y2="409.2" stroke="#222" stroke-width="1.1"/>
<line x1="330" y1="410.2" x2="330" y2="409.2" stroke="#222" stroke-width="1.1"/>
<line x1="337" y1="410.2" x2="337" y2="405.8" stroke="#222" stroke-width="1.1"/>
<line x1="342.1" y1="410.2" x2="342.1" y2="408.2" stroke="#222" stroke-width="1.1"/>
<line x1="347" y1="410.2" x2="347" y2="409" stroke="#222" stroke-width="1.1"/>
<line x1="353" y1="410.2" x2="353" y2="409.2" stroke="#222" stroke-width="1.1"/>
<line x1="360" y1="410.2" x2="360" y2="409" stroke="#222" stroke-width="1.1"/>
<line x1="366" y1="410.2" x2="366" y2="409.2" stroke="#222" stroke-width="1.1"/>
<line x1="372" y1="410.2" x2="372" y2="409.4" stroke="#222" stroke-width="1.1"/>
<line x1="378" y1="410.2" x2="378" y2="409.4" stroke="#222" stroke-width="1.1"/>
<line x1="384" y1="410.2" x2="384" y2="409.2" stroke="#222" stroke-width="1.1"/>
<line x1="390" y1="410.2" x2="390" y2="409.4" stroke="#222" stroke-width="1.1"/>
<line x1="396" y1="410.2" x2="396" y2="409.6" stroke="#222" stroke-width="1.1"/>
<line x1="402" y1="410.2" x2="402" y2="409.2" stroke="#222" stroke-width="1.1"/>
<line x1="408" y1="410.2" x2="408" y2="409.6" stroke="#222" stroke-width="1.1"/>
<line x1="414" y1="410.2" x2="414" y2="409.6" stroke="#222" stroke-width="1.1"/>
<line x1="420" y1="410.2" x2="420" y2="409.4" stroke="#222" stroke-width="1.1"/>
<line x1="426" y1="410.2" x2="426" y2="409.6" stroke="#222" stroke-width="1.1"/>
<line x1="432" y1="410.2" x2="432" y2="409.6" stroke="#222" stroke-width="1.1"/>
<line x1="438" y1="410.2" x2="438" y2="409.6" stroke="#222" stroke-width="1.1"/>
<line x1="444" y1="410.2" x2="444" y2="409.6" stroke="#222" stroke-width="1.1"/>
<line x1="61.9" y1="410.2" x2="61.9" y2="382.3" stroke="#222" stroke-width="2"/>
<line x1="76" y1="410.2" x2="76" y2="400" stroke="#222" stroke-width="1.8"/>
<text x="61.4" y="339.05" font-size="4.3" font-family="'Liberation Sans', sans-serif" text-anchor="middle" fill="#111" font-weight="bold">3H1P</text>
<text x="75.5" y="327.05" font-size="4.3" font-family="'Liberation Sans', sans-serif" text-anchor="middle" fill="#111" font-weight="bold">4H</text>
<text x="113" y="355.45" font-size="4.3" font-family="'Liberation Sans', sans-serif" text-anchor="middle" fill="#111" font-weight="bold">3H2P</text>
<text x="126.3" y="392.55" font-size="4.3" font-family="'Liberation Sans', sans-serif" text-anchor="middle" fill="#111" font-weight="bold">4H1P</text>
<text x="140.9" y="399.55" font-size="4.3" font-family="'Liberation Sans', sans-serif" text-anchor="middle" fill="#111" font-weight="bold">5H</text>
<text x="164.6" y="391.05" font-size="4.3" font-family="'Liberation Sans', sans-serif" text-anchor="middle" fill="#111" font-weight="bold">3H3P</text>
<text x="178.4" y="395.45" font-size="4.3" font-family="'Liberation Sans', sans-serif" text-anchor="middle" fill="#111" font-weight="bold">4H2P</text>
<text x="207" y="404.25" font-size="4.3" font-family="'Liberation Sans', sans-serif" text-anchor="middle" fill="#111" font-weight="bold">6H</text>
<text x="215.8" y="385.35" font-size="4.3" font-family="'Liberation Sans', sans-serif" text-anchor="middle" fill="#111" font-weight="bold">3H4P</text>
<text x="229.8" y="402.55" font-size="4.3" font-family="'Liberation Sans', sans-serif" text-anchor="middle" fill="#111" font-weight="bold">4H3P</text>
<text x="243.6" y="404.35" font-size="4.3" font-family="'Liberation Sans', sans-serif" text-anchor="middle" fill="#111" font-weight="bold">5H2P</text>
<text x="272.2" y="404.85" font-size="4.3" font-family="'Liberation Sans', sans-serif" text-anchor="middle" fill="#111" font-weight="bold">7H</text>
<text x="281.5" y="400.85" font-size="4.3" font-family="'Liberation Sans', sans-serif" text-anchor="middle" fill="#111" font-weight="bold">4H4P</text>
<text x="294.5" y="406.55" font-size="4.3" font-family="'Liberation Sans', sans-serif" text-anchor="middle" fill="#111" font-weight="bold">5H3P</text>
<text x="336.9" y="400.15" font-size="4.3" font-family="'Liberation Sans', sans-serif" text-anchor="middle" fill="#111" font-weight="bold">9H</text>
<text x="346.5" y="407.45" font-size="4.3" font-family="'Liberation Sans', sans-serif" text-anchor="middle" fill="#111" font-weight="bold">6H4P</text>
<text x="361.4" y="407.95" font-size="4.3" font-family="'Liberation Sans', sans-serif" text-anchor="middle" fill="#111" font-weight="bold">6H3P</text>
<polygon points="334.6,402.6 338.6,402.6 336.6,406.6" fill="#111"/>
<line x1="336.6" y1="401.6" x2="336.6" y2="408.5" stroke="#111" stroke-width="0.8"/>
<line x1="48.3" y1="431.4" x2="448.4" y2="431.4" stroke="#555" stroke-width="1.3"/>
<line x1="448.4" y1="431.4" x2="448.4" y2="532.4" stroke="#555" stroke-width="1.3"/>
<line x1="48.3" y1="430.75" x2="48.3" y2="533" stroke="#222" stroke-width="1.2"/>
<line x1="47.7" y1="532.4" x2="449.05" y2="532.4" stroke="#222" stroke-width="1.2"/>
<line x1="46.3" y1="529.85" x2="48.3" y2="529.85" stroke="#222" stroke-width="0.9"/>
<line x1="46.3" y1="524.54" x2="48.3" y2="524.54" stroke="#222" stroke-width="0.9"/>
<line x1="46.3" y1="519.23" x2="48.3" y2="519.23" stroke="#222" stroke-width="0.9"/>
<line x1="46.3" y1="513.92" x2="48.3" y2="513.92" stroke="#222" stroke-width="0.9"/>
<line x1="46.3" y1="508.61" x2="48.3" y2="508.61" stroke="#222" stroke-width="0.9"/>
<line x1="46.3" y1="503.3" x2="48.3" y2="503.3" stroke="#222" stroke-width="0.9"/>
<line x1="46.3" y1="497.99" x2="48.3" y2="497.99" stroke="#222" stroke-width="0.9"/>
<line x1="46.3" y1="492.68" x2="48.3" y2="492.68" stroke="#222" stroke-width="0.9"/>
<line x1="46.3" y1="487.37" x2="48.3" y2="487.37" stroke="#222" stroke-width="0.9"/>
<line x1="46.3" y1="482.06" x2="48.3" y2="482.06" stroke="#222" stroke-width="0.9"/>
<line x1="46.3" y1="476.75" x2="48.3" y2="476.75" stroke="#222" stroke-width="0.9"/>
<line x1="46.3" y1="471.44" x2="48.3" y2="471.44" stroke="#222" stroke-width="0.9"/>
<line x1="46.3" y1="466.13" x2="48.3" y2="466.13" stroke="#222" stroke-width="0.9"/>
<line x1="46.3" y1="460.82" x2="48.3" y2="460.82" stroke="#222" stroke-width="0.9"/>
<line x1="46.3" y1="455.51" x2="48.3" y2="455.51" stroke="#222" stroke-width="0.9"/>
<line x1="46.3" y1="450.2" x2="48.3" y2="450.2" stroke="#222" stroke-width="0.9"/>
<line x1="46.3" y1="444.89" x2="48.3" y2="444.89" stroke="#222" stroke-width="0.9"/>
<line x1="46.3" y1="439.58" x2="48.3" y2="439.58" stroke="#222" stroke-width="0.9"/>
<line x1="46.3" y1="434.27" x2="48.3" y2="434.27" stroke="#222" stroke-width="0.9"/>
<line x1="45.3" y1="529.85" x2="48.3" y2="529.85" stroke="#222" stroke-width="0.9"/>
<text x="43.6" y="532.25" font-size="6" font-family="'Liberation Serif', serif" text-anchor="end" fill="#444" textLength="7.8" lengthAdjust="spacingAndGlyphs">0.0</text>
<line x1="45.3" y1="503.3" x2="48.3" y2="503.3" stroke="#222" stroke-width="0.9"/>
<text x="43.6" y="505.7" font-size="6" font-family="'Liberation Serif', serif" text-anchor="end" fill="#444" textLength="7.8" lengthAdjust="spacingAndGlyphs">0.5</text>
<line x1="45.3" y1="476.75" x2="48.3" y2="476.75" stroke="#222" stroke-width="0.9"/>
<text x="43.6" y="479.15" font-size="6" font-family="'Liberation Serif', serif" text-anchor="end" fill="#444" textLength="7.8" lengthAdjust="spacingAndGlyphs">1.0</text>
<line x1="45.3" y1="450.2" x2="48.3" y2="450.2" stroke="#222" stroke-width="0.9"/>
<text x="43.6" y="452.6" font-size="6" font-family="'Liberation Serif', serif" text-anchor="end" fill="#444" textLength="7.8" lengthAdjust="spacingAndGlyphs">1.5</text>
<text x="44.6" y="438.0" font-size="6.0" font-family="'Liberation Serif', serif" text-anchor="end" fill="#444">x10<tspan font-size="4.4" dy="-2.2">5</tspan></text>
<line x1="67.35" y1="532.4" x2="67.35" y2="534.6" stroke="#222" stroke-width="0.9"/>
<line x1="88.2" y1="532.4" x2="88.2" y2="534.6" stroke="#222" stroke-width="0.9"/>
<line x1="109.05" y1="532.4" x2="109.05" y2="534.6" stroke="#222" stroke-width="0.9"/>
<line x1="129.9" y1="532.4" x2="129.9" y2="534.6" stroke="#222" stroke-width="0.9"/>
<line x1="150.75" y1="532.4" x2="150.75" y2="534.6" stroke="#222" stroke-width="0.9"/>
<line x1="171.6" y1="532.4" x2="171.6" y2="534.6" stroke="#222" stroke-width="0.9"/>
<line x1="192.45" y1="532.4" x2="192.45" y2="534.6" stroke="#222" stroke-width="0.9"/>
<line x1="213.3" y1="532.4" x2="213.3" y2="534.6" stroke="#222" stroke-width="0.9"/>
<line x1="234.15" y1="532.4" x2="234.15" y2="534.6" stroke="#222" stroke-width="0.9"/>
<line x1="255" y1="532.4" x2="255" y2="534.6" stroke="#222" stroke-width="0.9"/>
<line x1="275.85" y1="532.4" x2="275.85" y2="534.6" stroke="#222" stroke-width="0.9"/>
<line x1="296.7" y1="532.4" x2="296.7" y2="534.6" stroke="#222" stroke-width="0.9"/>
<line x1="317.55" y1="532.4" x2="317.55" y2="534.6" stroke="#222" stroke-width="0.9"/>
<line x1="338.4" y1="532.4" x2="338.4" y2="534.6" stroke="#222" stroke-width="0.9"/>
<line x1="359.25" y1="532.4" x2="359.25" y2="534.6" stroke="#222" stroke-width="0.9"/>
<line x1="380.1" y1="532.4" x2="380.1" y2="534.6" stroke="#222" stroke-width="0.9"/>
<line x1="400.95" y1="532.4" x2="400.95" y2="534.6" stroke="#222" stroke-width="0.9"/>
<line x1="421.8" y1="532.4" x2="421.8" y2="534.6" stroke="#222" stroke-width="0.9"/>
<line x1="442.65" y1="532.4" x2="442.65" y2="534.6" stroke="#222" stroke-width="0.9"/>
<line x1="88.2" y1="532.4" x2="88.2" y2="535.9" stroke="#222" stroke-width="0.9"/>
<text x="88.2" y="540.2" font-size="6.8" font-family="'Liberation Serif', serif" text-anchor="middle" fill="#444" textLength="7.2" lengthAdjust="spacingAndGlyphs">800</text>
<line x1="129.9" y1="532.4" x2="129.9" y2="535.9" stroke="#222" stroke-width="0.9"/>
<text x="129.9" y="540.2" font-size="6.8" font-family="'Liberation Serif', serif" text-anchor="middle" fill="#444" textLength="9.6" lengthAdjust="spacingAndGlyphs">1000</text>
<line x1="171.6" y1="532.4" x2="171.6" y2="535.9" stroke="#222" stroke-width="0.9"/>
<text x="171.6" y="540.2" font-size="6.8" font-family="'Liberation Serif', serif" text-anchor="middle" fill="#444" textLength="9.6" lengthAdjust="spacingAndGlyphs">1200</text>
<line x1="213.3" y1="532.4" x2="213.3" y2="535.9" stroke="#222" stroke-width="0.9"/>
<text x="213.3" y="540.2" font-size="6.8" font-family="'Liberation Serif', serif" text-anchor="middle" fill="#444" textLength="9.6" lengthAdjust="spacingAndGlyphs">1400</text>
<line x1="255" y1="532.4" x2="255" y2="535.9" stroke="#222" stroke-width="0.9"/>
<text x="255" y="540.2" font-size="6.8" font-family="'Liberation Serif', serif" text-anchor="middle" fill="#444" textLength="9.6" lengthAdjust="spacingAndGlyphs">1600</text>
<line x1="296.7" y1="532.4" x2="296.7" y2="535.9" stroke="#222" stroke-width="0.9"/>
<text x="296.7" y="540.2" font-size="6.8" font-family="'Liberation Serif', serif" text-anchor="middle" fill="#444" textLength="9.6" lengthAdjust="spacingAndGlyphs">1800</text>
<line x1="338.4" y1="532.4" x2="338.4" y2="535.9" stroke="#222" stroke-width="0.9"/>
<text x="338.4" y="540.2" font-size="6.8" font-family="'Liberation Serif', serif" text-anchor="middle" fill="#444" textLength="9.6" lengthAdjust="spacingAndGlyphs">2000</text>
<line x1="380.1" y1="532.4" x2="380.1" y2="535.9" stroke="#222" stroke-width="0.9"/>
<text x="380.1" y="540.2" font-size="6.8" font-family="'Liberation Serif', serif" text-anchor="middle" fill="#444" textLength="9.6" lengthAdjust="spacingAndGlyphs">2200</text>
<line x1="421.8" y1="532.4" x2="421.8" y2="535.9" stroke="#222" stroke-width="0.9"/>
<text x="421.8" y="540.2" font-size="6.8" font-family="'Liberation Serif', serif" text-anchor="middle" fill="#444" textLength="9.6" lengthAdjust="spacingAndGlyphs">2400</text>
<text x="27.4" y="452" font-size="7" font-family="'Liberation Sans', sans-serif" text-anchor="middle" fill="#1a1a1a" stroke="#1a1a1a" stroke-width="0.25" textLength="33.5" lengthAdjust="spacingAndGlyphs" transform="rotate(-90 27.4 452)">Intens. [a.u.]</text>
<text x="5.9" y="453.7" font-size="11.8" font-family="'Liberation Serif', serif" text-anchor="middle" fill="#111" font-weight="bold">D</text>
<text x="447.8" y="547.2" font-size="8.0" font-family="'Liberation Sans', sans-serif" text-anchor="end" fill="#111" stroke="#111" stroke-width="0.2" textLength="10.2" lengthAdjust="spacingAndGlyphs">m/z</text>
<polyline points="48.8,523.4 49.8,523.83 50.8,524.09 51.8,523.91 52.8,524.02 53.8,524.12 54.8,523.7 55.8,523.98 56.8,524.26 57.8,523.7 58.8,523.73 59.8,523.7 60.8,524.44 61.8,523.89 62.8,524.57 63.8,524.26 64.8,523.84 65.8,524.73 66.8,524.71 67.8,524.12 68.8,524.57 69.8,524.42 70.8,525.09 71.8,524.82 72.8,522.16 73.8,525.03 74.8,524.94 75.8,525.38 76.8,525.46 77.8,524.85 78.8,525.6 79.8,525.67 80.8,524.98 81.8,525.71 82.8,525.72 83.8,523.29 84.8,525.48 85.8,525.16 86.8,525.2 87.8,525.69 88.8,525.94 89.8,525.59 90.8,525.99 91.8,526.07 92.8,525.76 93.8,526.07 94.8,525.22 95.8,526.04 96.8,526.32 97.8,525.66 98.8,526.3 99.8,526.15 100.8,526.31 101.8,526.52 102.8,526.49 103.8,526.51 104.8,525.83 105.8,526.55 106.8,526.61 107.8,526.53 108.8,526.02 109.8,526.79 110.8,524.32 111.8,526.83 112.8,526.76 113.8,525.07 114.8,526.18 115.8,526.8 116.8,526.43 117.8,526.82 118.8,526.91 119.8,526.73 120.8,527.05 121.8,527.09 122.8,526.79 123.8,526.5 124.8,526.78 125.8,526.64 126.8,526.92 127.8,526.59 128.8,527.11 129.8,526.8 130.8,526.62 131.8,527.19 132.8,527.21 133.8,524.44 134.8,526.68 135.8,526.77 136.8,526.91 137.8,526.78 138.8,525.88 139.8,527.04 140.8,526.17 141.8,524.51 142.8,527.18 143.8,527.28 144.8,527.67 145.8,527.69 146.8,527.56 147.8,527.74 148.8,525.62 149.8,527.78 150.8,527.79 151.8,527.71 152.8,527.8 153.8,527.25 154.8,527.84 155.8,527.83 156.8,527.44 157.8,527.87 158.8,527.8 159.8,527.81 160.8,527.72 161.8,527.58 162.8,527.5 163.8,527.66 164.8,527.96 165.8,527.89 166.8,528 167.8,528 168.8,528.02 169.8,528.04 170.8,527.63 171.8,527.85 172.8,528.02 173.8,527.73 174.8,528.08 175.8,528.1 176.8,527.48 177.8,527.58 178.8,527.85 179.8,527.88 180.8,528.04 181.8,527.7 182.8,527.79 183.8,527.98 184.8,527.82 185.8,527.6 186.8,527.94 187.8,528.25 188.8,528.26 189.8,528.27 190.8,528.29 191.8,527.74 192.8,527.88 193.8,527.36 194.8,528.34 195.8,528.34 196.8,528.32 197.8,528.27 198.8,527.81 199.8,528.19 200.8,528.18 201.8,528.38 202.8,527.97 203.8,528.33 204.8,528.27 205.8,528.1 206.8,528.47 207.8,528.37 208.8,528.35 209.8,528.15 210.8,528.14 211.8,528.53 212.8,528.15 213.8,528.51 214.8,528.57 215.8,528.21 216.8,528.6 217.8,528.61 218.8,528.33 219.8,528.63 220.8,528.64 221.8,528.32 222.8,528.23 223.8,528.4 224.8,528.63 225.8,528.38 226.8,528.37 227.8,528.44 228.8,528.74 229.8,528.59 230.8,528.76 231.8,528.78 232.8,528.53 233.8,528.39 234.8,528.81 235.8,528.82 236.8,528.49 237.8,528.84 238.8,528.57 239.8,528.79 240.8,528.74 241.8,528.65 242.8,528.71 243.8,528.78 244.8,526.17 245.8,528.95 246.8,528.89 247.8,528.95 248.8,528.93 249.8,528.99 250.8,528.95 251.8,529 252.8,528.93 253.8,529.01 254.8,528.78 255.8,528.95 256.8,528.7 257.8,528.87 258.8,529.02 259.8,528.87 260.8,528.73 261.8,528.97 262.8,528.94 263.8,528.94 264.8,528.97 265.8,528.88 266.8,528.87 267.8,528.92 268.8,528.81 269.8,528.95 270.8,529.04 271.8,529.03 272.8,529.04 273.8,528.89 274.8,528.82 275.8,528.89 276.8,529.05 277.8,529.02 278.8,529.05 279.8,529.05 280.8,528.97 281.8,528.94 282.8,529.01 283.8,528.95 284.8,529.05 285.8,528.79 286.8,528.95 287.8,529.06 288.8,528.8 289.8,529.03 290.8,528.79 291.8,528.84 292.8,529.06 293.8,529.06 294.8,529.01 295.8,529.09 296.8,529.01 297.8,529.08 298.8,529.08 299.8,529.06 300.8,528.88 301.8,528.94 302.8,529.03 303.8,528.87 304.8,529.11 305.8,529.03 306.8,529.11 307.8,528.99 308.8,528.88 309.8,528.93 310.8,529.12 311.8,529.05 312.8,529.1 313.8,529.12 314.8,529.13 315.8,529.1 316.8,528.99 317.8,529.07 318.8,529.03 319.8,529.13 320.8,529.01 321.8,529.13 322.8,529.05 323.8,529.04 324.8,529.14 325.8,528.99 326.8,529.11 327.8,529.15 328.8,528.91 329.8,529.09 330.8,528.92 331.8,529.13 332.8,529.13 333.8,529.12 334.8,529.14 335.8,529.11 336.8,528.94 337.8,529.08 338.8,529.11 339.8,529.12 340.8,529.18 341.8,529.07 342.8,529.07 343.8,528.98 344.8,529.11 345.8,529.15 346.8,529.13 347.8,529.09 348.8,529.16 349.8,529.09 350.8,529 351.8,528.92 352.8,529.19 353.8,529.17 354.8,529.1 355.8,529.2 356.8,529.18 357.8,529.02 358.8,529.22 359.8,529.1 360.8,529.15 361.8,529.16 362.8,528.93 363.8,529.23 364.8,528.95 365.8,529.2 366.8,529.19 367.8,529.12 368.8,529.23 369.8,529.15 370.8,529.23 371.8,529.16 372.8,529.11 373.8,529.25 374.8,529.03 375.8,529.25 376.8,529.12 377.8,528.96 378.8,529.16 379.8,529.23 380.8,529.21 381.8,529.09 382.8,529.24 383.8,529.24 384.8,529.27 385.8,529.2 386.8,529.26 387.8,529.17 388.8,529.17 389.8,529.23 390.8,529.06 391.8,529.02 392.8,529.28 393.8,529.27 394.8,529.24 395.8,529.24 396.8,529.28 397.8,529.13 398.8,529.27 399.8,529.25 400.8,529.25 401.8,529.3 402.8,529.2 403.8,529.2 404.8,529.19 405.8,529.31 406.8,529.25 407.8,529.31 408.8,529.04 409.8,529.32 410.8,529.29 411.8,529.3 412.8,529.08 413.8,529.15 414.8,529.21 415.8,529.21 416.8,529.04 417.8,529.09 418.8,529.22 419.8,529.34 420.8,529.34 421.8,529.32 422.8,529.13 423.8,529.31 424.8,529.15 425.8,529.23 426.8,529.25 427.8,529.34 428.8,529.35 429.8,529.34 430.8,529.36 431.8,529.18 432.8,529.37 433.8,529.37 434.8,529.32 435.8,529.36 436.8,529.28 437.8,529.26 438.8,529.29 439.8,529.37 440.8,529.38 441.8,529.33 442.8,529.39 443.8,529.36 444.8,529.25 445.8,529.39 446.8,529.38 447.8,529.24" fill="none" stroke="#111" stroke-width="1" stroke-linejoin="round"/>
<line x1="50.5" y1="524.38" x2="50.5" y2="510.9" stroke="#222" stroke-width="1.6"/>
<line x1="51.7" y1="524.42" x2="51.7" y2="453.8" stroke="#222" stroke-width="0.9"/>
<line x1="53.9" y1="524.5" x2="53.9" y2="501.4" stroke="#222" stroke-width="1"/>
<line x1="54.8" y1="524.53" x2="54.8" y2="510.9" stroke="#222" stroke-width="1"/>
<line x1="57" y1="524.6" x2="57" y2="514.4" stroke="#222" stroke-width="1"/>
<line x1="58.2" y1="524.64" x2="58.2" y2="513.5" stroke="#222" stroke-width="1"/>
<line x1="60.3" y1="524.72" x2="60.3" y2="491" stroke="#222" stroke-width="1"/>
<line x1="60.8" y1="524.75" x2="60.8" y2="504" stroke="#222" stroke-width="1.6"/>
<line x1="62.9" y1="524.89" x2="62.9" y2="494.5" stroke="#222" stroke-width="1.6"/>
<line x1="63.4" y1="524.92" x2="63.4" y2="450.6" stroke="#222" stroke-width="0.9"/>
<line x1="65.2" y1="525.03" x2="65.2" y2="488.4" stroke="#222" stroke-width="1"/>
<line x1="66" y1="525.08" x2="66" y2="505.7" stroke="#222" stroke-width="1"/>
<line x1="67.4" y1="525.17" x2="67.4" y2="508.3" stroke="#222" stroke-width="1"/>
<line x1="69.5" y1="525.31" x2="69.5" y2="500.5" stroke="#222" stroke-width="1"/>
<line x1="70.3" y1="525.36" x2="70.3" y2="501.4" stroke="#222" stroke-width="1"/>
<line x1="72.6" y1="525.51" x2="72.6" y2="505.4" stroke="#222" stroke-width="1"/>
<line x1="73.3" y1="525.55" x2="73.3" y2="520.4" stroke="#222" stroke-width="1"/>
<line x1="76.4" y1="525.75" x2="76.4" y2="521.3" stroke="#222" stroke-width="1"/>
<line x1="78.5" y1="525.88" x2="78.5" y2="523" stroke="#222" stroke-width="1"/>
<line x1="82.4" y1="526.13" x2="82.4" y2="502.3" stroke="#222" stroke-width="0.9"/>
<line x1="85.9" y1="526.33" x2="85.9" y2="524.7" stroke="#222" stroke-width="0.9"/>
<line x1="92.8" y1="526.55" x2="92.8" y2="509.2" stroke="#222" stroke-width="1"/>
<line x1="96.6" y1="526.67" x2="96.6" y2="516.1" stroke="#222" stroke-width="1"/>
<line x1="99.2" y1="526.75" x2="99.2" y2="508" stroke="#222" stroke-width="1"/>
<line x1="103.2" y1="526.88" x2="103.2" y2="514.4" stroke="#222" stroke-width="1"/>
<line x1="106.5" y1="526.99" x2="106.5" y2="471.5" stroke="#222" stroke-width="0.9"/>
<line x1="109" y1="527.07" x2="109" y2="524" stroke="#222" stroke-width="0.9"/>
<line x1="112.7" y1="527.17" x2="112.7" y2="508.2" stroke="#222" stroke-width="1.1"/>
<line x1="113.8" y1="527.19" x2="113.8" y2="512.6" stroke="#222" stroke-width="1"/>
<line x1="119.3" y1="527.33" x2="119.3" y2="524" stroke="#222" stroke-width="0.9"/>
<line x1="131.4" y1="527.63" x2="131.4" y2="525.2" stroke="#222" stroke-width="0.9"/>
<line x1="135.4" y1="527.73" x2="135.4" y2="520.3" stroke="#222" stroke-width="1"/>
<line x1="139.1" y1="527.83" x2="139.1" y2="524" stroke="#222" stroke-width="0.9"/>
<line x1="142" y1="527.9" x2="142" y2="518.5" stroke="#222" stroke-width="1"/>
<line x1="145.7" y1="527.99" x2="145.7" y2="520.7" stroke="#222" stroke-width="1"/>
<line x1="148.6" y1="528.06" x2="148.6" y2="492.1" stroke="#222" stroke-width="1"/>
<line x1="151.3" y1="528.12" x2="151.3" y2="525.2" stroke="#222" stroke-width="0.9"/>
<line x1="155.2" y1="528.16" x2="155.2" y2="517" stroke="#222" stroke-width="1"/>
<line x1="160" y1="528.22" x2="160" y2="525.5" stroke="#222" stroke-width="0.9"/>
<line x1="173.3" y1="528.38" x2="173.3" y2="526.7" stroke="#222" stroke-width="0.9"/>
<line x1="177.7" y1="528.43" x2="177.7" y2="526.3" stroke="#222" stroke-width="0.9"/>
<line x1="181" y1="528.47" x2="181" y2="525.2" stroke="#222" stroke-width="0.9"/>
<line x1="183.9" y1="528.51" x2="183.9" y2="525.2" stroke="#222" stroke-width="0.9"/>
<line x1="188.3" y1="528.56" x2="188.3" y2="524" stroke="#222" stroke-width="0.9"/>
<line x1="191.3" y1="528.6" x2="191.3" y2="504.2" stroke="#222" stroke-width="1"/>
<line x1="197.1" y1="528.67" x2="197.1" y2="522.3" stroke="#222" stroke-width="1"/>
<line x1="212.5" y1="528.85" x2="212.5" y2="526" stroke="#222" stroke-width="0.9"/>
<line x1="233.5" y1="529.1" x2="233.5" y2="516.6" stroke="#222" stroke-width="1.2"/>
<line x1="238" y1="529.16" x2="238" y2="526" stroke="#222" stroke-width="0.8"/>
<line x1="275.9" y1="529.35" x2="275.9" y2="521" stroke="#222" stroke-width="1.4"/>
<line x1="280" y1="529.36" x2="280" y2="526.5" stroke="#222" stroke-width="0.8"/>
<line x1="319.3" y1="529.44" x2="319.3" y2="524.4" stroke="#222" stroke-width="1.6"/>
<line x1="361" y1="529.52" x2="361" y2="526.8" stroke="#222" stroke-width="1"/>
<line x1="148.6" y1="527.76" x2="148.6" y2="495.5" stroke="#222" stroke-width="1.7"/>
<text x="64.25" y="450.05" font-size="4.3" font-family="'Liberation Sans', sans-serif" text-anchor="middle" fill="#111" font-weight="bold">5H</text>
<text x="83.45" y="502.05" font-size="4.3" font-family="'Liberation Sans', sans-serif" text-anchor="middle" fill="#111" font-weight="bold">3HA</text>
<text x="106.5" y="470.85" font-size="4.3" font-family="'Liberation Sans', sans-serif" text-anchor="middle" fill="#111" font-weight="bold">4H</text>
<text x="121" y="522.55" font-size="4.3" font-family="'Liberation Sans', sans-serif" text-anchor="middle" fill="#111" font-weight="bold">4HA</text>
<text x="149" y="491.65" font-size="4.3" font-family="'Liberation Sans', sans-serif" text-anchor="middle" fill="#111" font-weight="bold">5H</text>
<text x="161.6" y="525.65" font-size="4.3" font-family="'Liberation Sans', sans-serif" text-anchor="middle" fill="#111" font-weight="bold">5HA</text>
<text x="191.9" y="504.25" font-size="4.3" font-family="'Liberation Sans', sans-serif" text-anchor="middle" fill="#111" font-weight="bold">6H</text>
<text x="233.5" y="514.75" font-size="4.3" font-family="'Liberation Sans', sans-serif" text-anchor="middle" fill="#111" font-weight="bold">7H</text>
<text x="275.9" y="519.65" font-size="4.3" font-family="'Liberation Sans', sans-serif" text-anchor="middle" fill="#111" font-weight="bold">8H</text>
<text x="318.8" y="522.85" font-size="4.3" font-family="'Liberation Sans', sans-serif" text-anchor="middle" fill="#111" font-weight="bold">9H</text>
<text x="362.7" y="524.95" font-size="4.3" font-family="'Liberation Sans', sans-serif" text-anchor="middle" fill="#111" font-weight="bold">10H</text>
<text x="406.3" y="527.75" font-size="4.3" font-family="'Liberation Sans', sans-serif" text-anchor="middle" fill="#111" font-weight="bold">11H</text>
<text x="191.5" y="170.9" font-size="12.2" font-family="'Liberation Serif', serif" fill="#111" font-weight="bold" textLength="43.2" lengthAdjust="spacingAndGlyphs">Figure 2.</text><text x="237.3" y="170.9" font-size="12.2" font-family="'Liberation Serif', serif" fill="#111" font-style="italic" textLength="22.6" lengthAdjust="spacingAndGlyphs">Cont.</text></svg>
</body></html>
